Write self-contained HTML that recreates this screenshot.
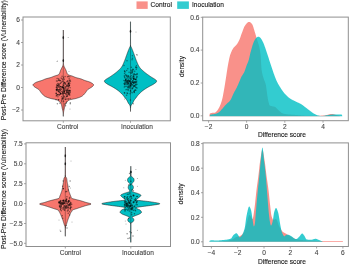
<!DOCTYPE html>
<html><head><meta charset="utf-8"><style>
html,body{margin:0;padding:0;background:#fff;width:350px;height:264px;overflow:hidden}
svg{display:block;font-family:"Liberation Sans",sans-serif;font-size:6.6px;filter:blur(0.35px)}
text{stroke-width:0.1px}
</style></head><body>
<svg width="350" height="264" viewBox="0 0 350 264">
<rect x="23" y="17" width="147.3" height="103.8" fill="none" stroke="#8f8f8f" stroke-width="1.0"/>
<path d="M63.3,30 L63.33,30.25 L63.36,30.5 L63.38,30.75 L63.38,31 L63.38,31.25 L63.38,31.5 L63.38,31.75 L63.38,32 L63.38,32.25 L63.38,32.5 L63.38,32.75 L63.38,33 L63.38,33.25 L63.38,33.5 L63.38,33.75 L63.38,34 L63.38,34.25 L63.38,34.5 L63.38,34.75 L63.38,35 L63.38,35.25 L63.38,35.5 L63.39,35.75 L63.4,36 L63.4,36.25 L63.41,36.5 L63.41,36.75 L63.42,37 L63.42,37.25 L63.42,37.5 L63.42,37.75 L63.41,38 L63.41,38.25 L63.4,38.5 L63.39,38.75 L63.39,39 L63.38,39.25 L63.38,39.5 L63.38,39.75 L63.38,40 L63.38,40.25 L63.38,40.5 L63.38,40.75 L63.38,41 L63.38,41.25 L63.38,41.5 L63.38,41.75 L63.38,42 L63.38,42.25 L63.38,42.5 L63.38,42.75 L63.38,43 L63.38,43.25 L63.38,43.5 L63.38,43.75 L63.38,44 L63.38,44.25 L63.38,44.5 L63.38,44.75 L63.38,45 L63.38,45.25 L63.38,45.5 L63.38,45.75 L63.38,46 L63.38,46.25 L63.38,46.5 L63.38,46.75 L63.38,47 L63.38,47.25 L63.38,47.5 L63.38,47.75 L63.38,48 L63.38,48.25 L63.38,48.5 L63.38,48.75 L63.38,49 L63.38,49.25 L63.38,49.5 L63.38,49.75 L63.38,50 L63.38,50.25 L63.38,50.5 L63.38,50.75 L63.38,51 L63.38,51.25 L63.38,51.5 L63.38,51.75 L63.38,52 L63.38,52.25 L63.38,52.5 L63.38,52.75 L63.38,53 L63.38,53.25 L63.38,53.5 L63.38,53.75 L63.38,54 L63.38,54.25 L63.38,54.5 L63.38,54.75 L63.38,55 L63.38,55.25 L63.38,55.5 L63.38,55.75 L63.38,56 L63.38,56.25 L63.38,56.5 L63.38,56.75 L63.38,57 L63.38,57.25 L63.38,57.5 L63.38,57.75 L63.38,58 L63.38,58.25 L63.38,58.5 L63.39,58.75 L63.39,59 L63.4,59.25 L63.41,59.5 L63.41,59.75 L63.42,60 L63.42,60.25 L63.42,60.5 L63.42,60.75 L63.42,61 L63.42,61.25 L63.41,61.5 L63.41,61.75 L63.41,62 L63.4,62.25 L63.4,62.5 L63.4,62.75 L63.4,63 L63.41,63.25 L63.42,63.5 L63.44,63.75 L63.47,64 L63.51,64.25 L63.55,64.5 L63.6,64.75 L63.65,65 L63.7,65.25 L63.75,65.5 L63.81,65.75 L63.89,66 L63.99,66.25 L64.1,66.5 L64.22,66.75 L64.34,67 L64.47,67.25 L64.6,67.5 L64.73,67.75 L64.85,68 L64.97,68.25 L65.1,68.5 L65.23,68.75 L65.36,69 L65.49,69.25 L65.62,69.5 L65.75,69.75 L65.87,70 L65.98,70.25 L66.08,70.5 L66.17,70.75 L66.25,71 L66.33,71.25 L66.41,71.5 L66.48,71.75 L66.57,72 L66.66,72.25 L66.76,72.5 L66.87,72.75 L66.97,73 L67.08,73.25 L67.2,73.5 L67.34,73.75 L67.5,74 L67.68,74.25 L67.9,74.5 L68.21,74.75 L68.77,75 L69.51,75.25 L70.36,75.5 L71.22,75.75 L72.02,76 L72.69,76.25 L73.3,76.5 L73.88,76.75 L74.47,77 L75.1,77.25 L75.8,77.5 L76.62,77.75 L77.57,78 L78.58,78.25 L79.58,78.5 L80.5,78.75 L81.3,79 L81.95,79.25 L82.53,79.5 L83.06,79.75 L83.62,80 L84.23,80.25 L84.93,80.5 L85.7,80.75 L86.51,81 L87.33,81.25 L88.15,81.5 L88.94,81.75 L89.66,82 L90.3,82.25 L90.83,82.5 L91.24,82.75 L91.65,83 L92.05,83.25 L92.42,83.5 L92.77,83.75 L93.06,84 L93.31,84.25 L93.48,84.5 L93.58,84.75 L93.59,85 L93.52,85.25 L93.38,85.5 L93.19,85.75 L92.97,86 L92.74,86.25 L92.5,86.5 L92.22,86.75 L91.88,87 L91.5,87.25 L91.1,87.5 L90.69,87.75 L90.3,88 L89.89,88.25 L89.44,88.5 L88.99,88.75 L88.56,89 L88.19,89.25 L87.89,89.5 L87.63,89.75 L87.39,90 L87.17,90.25 L86.97,90.5 L86.78,90.75 L86.6,91 L86.43,91.25 L86.26,91.5 L86.09,91.75 L85.92,92 L85.75,92.25 L85.57,92.5 L85.38,92.75 L85.17,93 L84.96,93.25 L84.74,93.5 L84.52,93.75 L84.31,94 L84.09,94.25 L83.86,94.5 L83.63,94.75 L83.38,95 L83.12,95.25 L82.84,95.5 L82.53,95.75 L82.19,96 L81.82,96.25 L81.4,96.5 L80.9,96.75 L80.34,97 L79.72,97.25 L79.05,97.5 L78.32,97.75 L77.55,98 L76.74,98.25 L75.9,98.5 L74.84,98.75 L73.5,99 L72.1,99.25 L70.84,99.5 L69.92,99.75 L69.37,100 L68.91,100.25 L68.51,100.5 L68.16,100.75 L67.85,101 L67.57,101.25 L67.3,101.5 L67.05,101.75 L66.8,102 L66.56,102.25 L66.34,102.5 L66.14,102.75 L65.95,103 L65.79,103.25 L65.65,103.5 L65.53,103.75 L65.44,104 L65.35,104.25 L65.27,104.5 L65.2,104.75 L65.13,105 L65.06,105.25 L65,105.5 L64.94,105.75 L64.88,106 L64.82,106.25 L64.77,106.5 L64.71,106.75 L64.66,107 L64.61,107.25 L64.56,107.5 L64.51,107.75 L64.46,108 L64.41,108.25 L64.36,108.5 L64.3,108.75 L64.24,109 L64.18,109.25 L64.12,109.5 L64.06,109.75 L64,110 L63.94,110.25 L63.88,110.5 L63.82,110.75 L63.77,111 L63.73,111.25 L63.68,111.5 L63.64,111.75 L63.61,112 L63.58,112.25 L63.56,112.5 L63.53,112.75 L63.51,113 L63.48,113.25 L63.46,113.5 L63.44,113.75 L63.41,114 L63.39,114.25 L63.37,114.5 L63.36,114.75 L63.34,115 L63.33,115.25 L63.32,115.5 L63.31,115.75 L63.3,116 L63.3,116.25 L63.3,116.4 L63.3,116.4 L63.3,116.25 L63.3,116 L63.29,115.75 L63.28,115.5 L63.27,115.25 L63.26,115 L63.24,114.75 L63.23,114.5 L63.21,114.25 L63.19,114 L63.16,113.75 L63.14,113.5 L63.12,113.25 L63.09,113 L63.07,112.75 L63.04,112.5 L63.02,112.25 L62.99,112 L62.96,111.75 L62.92,111.5 L62.87,111.25 L62.83,111 L62.78,110.75 L62.72,110.5 L62.66,110.25 L62.6,110 L62.54,109.75 L62.48,109.5 L62.42,109.25 L62.36,109 L62.3,108.75 L62.24,108.5 L62.19,108.25 L62.14,108 L62.09,107.75 L62.04,107.5 L61.99,107.25 L61.94,107 L61.89,106.75 L61.83,106.5 L61.78,106.25 L61.72,106 L61.66,105.75 L61.6,105.5 L61.54,105.25 L61.47,105 L61.4,104.75 L61.33,104.5 L61.25,104.25 L61.16,104 L61.07,103.75 L60.95,103.5 L60.81,103.25 L60.65,103 L60.46,102.75 L60.26,102.5 L60.04,102.25 L59.8,102 L59.55,101.75 L59.3,101.5 L59.03,101.25 L58.75,101 L58.44,100.75 L58.09,100.5 L57.69,100.25 L57.23,100 L56.68,99.75 L55.76,99.5 L54.5,99.25 L53.1,99 L51.76,98.75 L50.7,98.5 L49.86,98.25 L49.05,98 L48.28,97.75 L47.55,97.5 L46.88,97.25 L46.26,97 L45.7,96.75 L45.2,96.5 L44.78,96.25 L44.41,96 L44.07,95.75 L43.76,95.5 L43.48,95.25 L43.22,95 L42.97,94.75 L42.74,94.5 L42.51,94.25 L42.29,94 L42.08,93.75 L41.86,93.5 L41.64,93.25 L41.43,93 L41.22,92.75 L41.03,92.5 L40.85,92.25 L40.68,92 L40.51,91.75 L40.34,91.5 L40.17,91.25 L40,91 L39.82,90.75 L39.63,90.5 L39.43,90.25 L39.21,90 L38.97,89.75 L38.71,89.5 L38.41,89.25 L38.04,89 L37.61,88.75 L37.16,88.5 L36.71,88.25 L36.3,88 L35.91,87.75 L35.5,87.5 L35.1,87.25 L34.72,87 L34.38,86.75 L34.1,86.5 L33.86,86.25 L33.63,86 L33.41,85.75 L33.22,85.5 L33.08,85.25 L33.01,85 L33.02,84.75 L33.12,84.5 L33.29,84.25 L33.54,84 L33.83,83.75 L34.18,83.5 L34.55,83.25 L34.95,83 L35.36,82.75 L35.77,82.5 L36.3,82.25 L36.94,82 L37.66,81.75 L38.45,81.5 L39.27,81.25 L40.09,81 L40.9,80.75 L41.67,80.5 L42.37,80.25 L42.98,80 L43.54,79.75 L44.07,79.5 L44.65,79.25 L45.3,79 L46.1,78.75 L47.02,78.5 L48.02,78.25 L49.03,78 L49.98,77.75 L50.8,77.5 L51.5,77.25 L52.13,77 L52.72,76.75 L53.3,76.5 L53.91,76.25 L54.58,76 L55.38,75.75 L56.24,75.5 L57.09,75.25 L57.83,75 L58.39,74.75 L58.7,74.5 L58.92,74.25 L59.1,74 L59.26,73.75 L59.4,73.5 L59.52,73.25 L59.63,73 L59.73,72.75 L59.84,72.5 L59.94,72.25 L60.03,72 L60.12,71.75 L60.19,71.5 L60.27,71.25 L60.35,71 L60.43,70.75 L60.52,70.5 L60.62,70.25 L60.73,70 L60.85,69.75 L60.98,69.5 L61.11,69.25 L61.24,69 L61.37,68.75 L61.5,68.5 L61.63,68.25 L61.75,68 L61.87,67.75 L62,67.5 L62.13,67.25 L62.26,67 L62.38,66.75 L62.5,66.5 L62.61,66.25 L62.71,66 L62.79,65.75 L62.85,65.5 L62.9,65.25 L62.95,65 L63,64.75 L63.05,64.5 L63.09,64.25 L63.13,64 L63.16,63.75 L63.18,63.5 L63.19,63.25 L63.2,63 L63.2,62.75 L63.2,62.5 L63.2,62.25 L63.19,62 L63.19,61.75 L63.19,61.5 L63.18,61.25 L63.18,61 L63.18,60.75 L63.18,60.5 L63.18,60.25 L63.18,60 L63.19,59.75 L63.19,59.5 L63.2,59.25 L63.21,59 L63.21,58.75 L63.22,58.5 L63.22,58.25 L63.22,58 L63.22,57.75 L63.22,57.5 L63.22,57.25 L63.22,57 L63.22,56.75 L63.22,56.5 L63.22,56.25 L63.22,56 L63.22,55.75 L63.22,55.5 L63.22,55.25 L63.22,55 L63.22,54.75 L63.22,54.5 L63.22,54.25 L63.22,54 L63.22,53.75 L63.22,53.5 L63.22,53.25 L63.22,53 L63.22,52.75 L63.22,52.5 L63.22,52.25 L63.22,52 L63.22,51.75 L63.22,51.5 L63.22,51.25 L63.22,51 L63.22,50.75 L63.22,50.5 L63.22,50.25 L63.22,50 L63.22,49.75 L63.22,49.5 L63.22,49.25 L63.22,49 L63.22,48.75 L63.22,48.5 L63.22,48.25 L63.22,48 L63.22,47.75 L63.22,47.5 L63.22,47.25 L63.22,47 L63.22,46.75 L63.22,46.5 L63.22,46.25 L63.22,46 L63.22,45.75 L63.22,45.5 L63.22,45.25 L63.22,45 L63.22,44.75 L63.22,44.5 L63.22,44.25 L63.22,44 L63.22,43.75 L63.22,43.5 L63.22,43.25 L63.22,43 L63.22,42.75 L63.22,42.5 L63.22,42.25 L63.22,42 L63.22,41.75 L63.22,41.5 L63.22,41.25 L63.22,41 L63.22,40.75 L63.22,40.5 L63.22,40.25 L63.22,40 L63.22,39.75 L63.22,39.5 L63.22,39.25 L63.21,39 L63.21,38.75 L63.2,38.5 L63.19,38.25 L63.19,38 L63.18,37.75 L63.18,37.5 L63.18,37.25 L63.18,37 L63.19,36.75 L63.19,36.5 L63.2,36.25 L63.2,36 L63.21,35.75 L63.22,35.5 L63.22,35.25 L63.22,35 L63.22,34.75 L63.22,34.5 L63.22,34.25 L63.22,34 L63.22,33.75 L63.22,33.5 L63.22,33.25 L63.22,33 L63.22,32.75 L63.22,32.5 L63.22,32.25 L63.22,32 L63.22,31.75 L63.22,31.5 L63.22,31.25 L63.22,31 L63.22,30.75 L63.24,30.5 L63.27,30.25 L63.3,30 Z" fill="#F8766D" stroke="#111" stroke-width="0.5" stroke-linejoin="round"/>
<path d="M130.5,21.7 L130.53,21.95 L130.56,22.2 L130.58,22.45 L130.58,22.7 L130.58,22.95 L130.58,23.2 L130.58,23.45 L130.58,23.7 L130.58,23.95 L130.58,24.2 L130.58,24.45 L130.58,24.7 L130.58,24.95 L130.58,25.2 L130.58,25.45 L130.58,25.7 L130.58,25.95 L130.58,26.2 L130.58,26.45 L130.58,26.7 L130.58,26.95 L130.58,27.2 L130.58,27.45 L130.58,27.7 L130.58,27.95 L130.58,28.2 L130.58,28.45 L130.58,28.7 L130.58,28.95 L130.58,29.2 L130.58,29.45 L130.59,29.7 L130.6,29.95 L130.6,30.2 L130.61,30.45 L130.61,30.7 L130.62,30.95 L130.62,31.2 L130.62,31.45 L130.62,31.7 L130.61,31.95 L130.6,32.2 L130.6,32.45 L130.59,32.7 L130.59,32.95 L130.58,33.2 L130.58,33.45 L130.58,33.7 L130.58,33.95 L130.58,34.2 L130.58,34.45 L130.58,34.7 L130.58,34.95 L130.58,35.2 L130.58,35.45 L130.58,35.7 L130.58,35.95 L130.58,36.2 L130.58,36.45 L130.58,36.7 L130.58,36.95 L130.58,37.2 L130.58,37.45 L130.58,37.7 L130.58,37.95 L130.58,38.2 L130.58,38.45 L130.59,38.7 L130.59,38.95 L130.59,39.2 L130.59,39.45 L130.59,39.7 L130.59,39.95 L130.59,40.2 L130.59,40.45 L130.59,40.7 L130.59,40.95 L130.59,41.2 L130.59,41.45 L130.6,41.7 L130.6,41.95 L130.6,42.2 L130.6,42.45 L130.6,42.7 L130.6,42.95 L130.6,43.2 L130.6,43.45 L130.61,43.7 L130.61,43.95 L130.61,44.2 L130.61,44.45 L130.61,44.7 L130.62,44.95 L130.62,45.2 L130.62,45.45 L130.64,45.7 L130.69,45.95 L130.78,46.2 L130.89,46.45 L131.01,46.7 L131.14,46.95 L131.27,47.2 L131.38,47.45 L131.48,47.7 L131.58,47.95 L131.69,48.2 L131.8,48.45 L131.9,48.7 L132.01,48.95 L132.12,49.2 L132.22,49.45 L132.33,49.7 L132.44,49.95 L132.54,50.2 L132.64,50.45 L132.74,50.7 L132.84,50.95 L132.93,51.2 L133.03,51.45 L133.12,51.7 L133.22,51.95 L133.31,52.2 L133.4,52.45 L133.49,52.7 L133.58,52.95 L133.67,53.2 L133.76,53.45 L133.85,53.7 L133.95,53.95 L134.04,54.2 L134.13,54.45 L134.22,54.7 L134.31,54.95 L134.4,55.2 L134.49,55.45 L134.58,55.7 L134.67,55.95 L134.76,56.2 L134.85,56.45 L134.94,56.7 L135.02,56.95 L135.11,57.2 L135.2,57.45 L135.29,57.7 L135.37,57.95 L135.46,58.2 L135.55,58.45 L135.64,58.7 L135.73,58.95 L135.82,59.2 L135.91,59.45 L136.01,59.7 L136.1,59.95 L136.2,60.2 L136.29,60.45 L136.39,60.7 L136.5,60.95 L136.6,61.2 L136.7,61.45 L136.81,61.7 L136.91,61.95 L137.02,62.2 L137.12,62.45 L137.23,62.7 L137.33,62.95 L137.44,63.2 L137.55,63.45 L137.66,63.7 L137.77,63.95 L137.89,64.2 L138,64.45 L138.12,64.7 L138.25,64.95 L138.37,65.2 L138.5,65.45 L138.63,65.7 L138.77,65.95 L138.92,66.2 L139.06,66.45 L139.21,66.7 L139.37,66.95 L139.53,67.2 L139.7,67.45 L139.89,67.7 L140.08,67.95 L140.29,68.2 L140.51,68.45 L140.74,68.7 L140.98,68.95 L141.22,69.2 L141.48,69.45 L141.74,69.7 L142.01,69.95 L142.28,70.2 L142.56,70.45 L142.84,70.7 L143.12,70.95 L143.41,71.2 L143.7,71.45 L143.99,71.7 L144.27,71.95 L144.57,72.2 L144.87,72.45 L145.18,72.7 L145.5,72.95 L145.83,73.2 L146.15,73.45 L146.49,73.7 L146.83,73.95 L147.17,74.2 L147.52,74.45 L147.87,74.7 L148.22,74.95 L148.58,75.2 L148.94,75.45 L149.29,75.7 L149.65,75.95 L150.01,76.2 L150.37,76.45 L150.75,76.7 L151.14,76.95 L151.54,77.2 L151.95,77.45 L152.37,77.7 L152.79,77.95 L153.21,78.2 L153.62,78.45 L154.02,78.7 L154.41,78.95 L154.78,79.2 L155.13,79.45 L155.45,79.7 L155.75,79.95 L156.03,80.2 L156.33,80.45 L156.57,80.7 L156.7,80.95 L156.67,81.2 L156.58,81.45 L156.44,81.7 L156.28,81.95 L156.1,82.2 L155.89,82.45 L155.63,82.7 L155.33,82.95 L154.99,83.2 L154.62,83.45 L154.25,83.7 L153.87,83.95 L153.49,84.2 L153.08,84.45 L152.64,84.7 L152.19,84.95 L151.71,85.2 L151.23,85.45 L150.74,85.7 L150.25,85.95 L149.77,86.2 L149.3,86.45 L148.85,86.7 L148.41,86.95 L147.99,87.2 L147.57,87.45 L147.15,87.7 L146.74,87.95 L146.34,88.2 L145.94,88.45 L145.55,88.7 L145.16,88.95 L144.79,89.2 L144.43,89.45 L144.07,89.7 L143.71,89.95 L143.36,90.2 L143.02,90.45 L142.68,90.7 L142.36,90.95 L142.04,91.2 L141.73,91.45 L141.44,91.7 L141.15,91.95 L140.89,92.2 L140.65,92.45 L140.42,92.7 L140.2,92.95 L139.97,93.2 L139.74,93.45 L139.5,93.7 L139.24,93.95 L138.95,94.2 L138.67,94.45 L138.39,94.7 L138.15,94.95 L137.93,95.2 L137.72,95.45 L137.52,95.7 L137.34,95.95 L137.16,96.2 L136.98,96.45 L136.81,96.7 L136.64,96.95 L136.47,97.2 L136.29,97.45 L136.1,97.7 L135.91,97.95 L135.7,98.2 L135.5,98.45 L135.29,98.7 L135.08,98.95 L134.88,99.2 L134.69,99.45 L134.5,99.7 L134.33,99.95 L134.18,100.2 L134.03,100.45 L133.89,100.7 L133.76,100.95 L133.64,101.2 L133.52,101.45 L133.4,101.7 L133.28,101.95 L133.16,102.2 L133.03,102.45 L132.9,102.7 L132.77,102.95 L132.62,103.2 L132.47,103.45 L132.28,103.7 L132.08,103.95 L131.87,104.2 L131.66,104.45 L131.47,104.7 L131.32,104.95 L131.21,105.2 L131.1,105.45 L130.99,105.7 L130.89,105.95 L130.81,106.2 L130.74,106.45 L130.69,106.7 L130.65,106.95 L130.64,107.2 L130.62,107.45 L130.61,107.7 L130.59,107.95 L130.58,108.2 L130.57,108.45 L130.56,108.7 L130.55,108.95 L130.54,109.2 L130.53,109.45 L130.52,109.7 L130.52,109.95 L130.51,110.2 L130.51,110.45 L130.5,110.7 L130.5,110.95 L130.5,111.2 L130.5,111.45 L130.5,111.5 L130.5,111.5 L130.5,111.45 L130.5,111.2 L130.5,110.95 L130.5,110.7 L130.49,110.45 L130.49,110.2 L130.48,109.95 L130.48,109.7 L130.47,109.45 L130.46,109.2 L130.45,108.95 L130.44,108.7 L130.43,108.45 L130.42,108.2 L130.41,107.95 L130.39,107.7 L130.38,107.45 L130.36,107.2 L130.35,106.95 L130.31,106.7 L130.26,106.45 L130.19,106.2 L130.11,105.95 L130.01,105.7 L129.9,105.45 L129.79,105.2 L129.68,104.95 L129.53,104.7 L129.34,104.45 L129.13,104.2 L128.92,103.95 L128.72,103.7 L128.53,103.45 L128.38,103.2 L128.23,102.95 L128.1,102.7 L127.97,102.45 L127.84,102.2 L127.72,101.95 L127.6,101.7 L127.48,101.45 L127.36,101.2 L127.24,100.95 L127.11,100.7 L126.97,100.45 L126.82,100.2 L126.67,99.95 L126.5,99.7 L126.31,99.45 L126.12,99.2 L125.92,98.95 L125.71,98.7 L125.5,98.45 L125.3,98.2 L125.09,97.95 L124.9,97.7 L124.71,97.45 L124.53,97.2 L124.36,96.95 L124.19,96.7 L124.02,96.45 L123.84,96.2 L123.66,95.95 L123.48,95.7 L123.28,95.45 L123.07,95.2 L122.85,94.95 L122.61,94.7 L122.33,94.45 L122.05,94.2 L121.76,93.95 L121.5,93.7 L121.26,93.45 L121.03,93.2 L120.8,92.95 L120.58,92.7 L120.35,92.45 L120.11,92.2 L119.85,91.95 L119.56,91.7 L119.27,91.45 L118.96,91.2 L118.64,90.95 L118.32,90.7 L117.98,90.45 L117.64,90.2 L117.29,89.95 L116.93,89.7 L116.57,89.45 L116.21,89.2 L115.84,88.95 L115.45,88.7 L115.06,88.45 L114.66,88.2 L114.26,87.95 L113.85,87.7 L113.43,87.45 L113.01,87.2 L112.59,86.95 L112.15,86.7 L111.7,86.45 L111.23,86.2 L110.75,85.95 L110.26,85.7 L109.77,85.45 L109.29,85.2 L108.81,84.95 L108.36,84.7 L107.92,84.45 L107.51,84.2 L107.13,83.95 L106.75,83.7 L106.38,83.45 L106.01,83.2 L105.67,82.95 L105.37,82.7 L105.11,82.45 L104.9,82.2 L104.72,81.95 L104.56,81.7 L104.42,81.45 L104.33,81.2 L104.3,80.95 L104.43,80.7 L104.67,80.45 L104.97,80.2 L105.25,79.95 L105.55,79.7 L105.87,79.45 L106.22,79.2 L106.59,78.95 L106.98,78.7 L107.38,78.45 L107.79,78.2 L108.21,77.95 L108.63,77.7 L109.05,77.45 L109.46,77.2 L109.86,76.95 L110.25,76.7 L110.63,76.45 L110.99,76.2 L111.35,75.95 L111.71,75.7 L112.06,75.45 L112.42,75.2 L112.78,74.95 L113.13,74.7 L113.48,74.45 L113.83,74.2 L114.17,73.95 L114.51,73.7 L114.85,73.45 L115.17,73.2 L115.5,72.95 L115.82,72.7 L116.13,72.45 L116.43,72.2 L116.73,71.95 L117.01,71.7 L117.3,71.45 L117.59,71.2 L117.88,70.95 L118.16,70.7 L118.44,70.45 L118.72,70.2 L118.99,69.95 L119.26,69.7 L119.52,69.45 L119.78,69.2 L120.02,68.95 L120.26,68.7 L120.49,68.45 L120.71,68.2 L120.92,67.95 L121.11,67.7 L121.3,67.45 L121.47,67.2 L121.63,66.95 L121.79,66.7 L121.94,66.45 L122.08,66.2 L122.23,65.95 L122.37,65.7 L122.5,65.45 L122.63,65.2 L122.75,64.95 L122.88,64.7 L123,64.45 L123.11,64.2 L123.23,63.95 L123.34,63.7 L123.45,63.45 L123.56,63.2 L123.67,62.95 L123.77,62.7 L123.88,62.45 L123.98,62.2 L124.09,61.95 L124.19,61.7 L124.3,61.45 L124.4,61.2 L124.5,60.95 L124.61,60.7 L124.71,60.45 L124.8,60.2 L124.9,59.95 L124.99,59.7 L125.09,59.45 L125.18,59.2 L125.27,58.95 L125.36,58.7 L125.45,58.45 L125.54,58.2 L125.63,57.95 L125.71,57.7 L125.8,57.45 L125.89,57.2 L125.98,56.95 L126.06,56.7 L126.15,56.45 L126.24,56.2 L126.33,55.95 L126.42,55.7 L126.51,55.45 L126.6,55.2 L126.69,54.95 L126.78,54.7 L126.87,54.45 L126.96,54.2 L127.05,53.95 L127.15,53.7 L127.24,53.45 L127.33,53.2 L127.42,52.95 L127.51,52.7 L127.6,52.45 L127.69,52.2 L127.78,51.95 L127.88,51.7 L127.97,51.45 L128.07,51.2 L128.16,50.95 L128.26,50.7 L128.36,50.45 L128.46,50.2 L128.56,49.95 L128.67,49.7 L128.78,49.45 L128.88,49.2 L128.99,48.95 L129.1,48.7 L129.2,48.45 L129.31,48.2 L129.42,47.95 L129.52,47.7 L129.62,47.45 L129.73,47.2 L129.86,46.95 L129.99,46.7 L130.11,46.45 L130.22,46.2 L130.31,45.95 L130.36,45.7 L130.38,45.45 L130.38,45.2 L130.38,44.95 L130.39,44.7 L130.39,44.45 L130.39,44.2 L130.39,43.95 L130.39,43.7 L130.4,43.45 L130.4,43.2 L130.4,42.95 L130.4,42.7 L130.4,42.45 L130.4,42.2 L130.4,41.95 L130.4,41.7 L130.41,41.45 L130.41,41.2 L130.41,40.95 L130.41,40.7 L130.41,40.45 L130.41,40.2 L130.41,39.95 L130.41,39.7 L130.41,39.45 L130.41,39.2 L130.41,38.95 L130.41,38.7 L130.42,38.45 L130.42,38.2 L130.42,37.95 L130.42,37.7 L130.42,37.45 L130.42,37.2 L130.42,36.95 L130.42,36.7 L130.42,36.45 L130.42,36.2 L130.42,35.95 L130.42,35.7 L130.42,35.45 L130.42,35.2 L130.42,34.95 L130.42,34.7 L130.42,34.45 L130.42,34.2 L130.42,33.95 L130.42,33.7 L130.42,33.45 L130.42,33.2 L130.41,32.95 L130.41,32.7 L130.4,32.45 L130.4,32.2 L130.39,31.95 L130.38,31.7 L130.38,31.45 L130.38,31.2 L130.38,30.95 L130.39,30.7 L130.39,30.45 L130.4,30.2 L130.4,29.95 L130.41,29.7 L130.42,29.45 L130.42,29.2 L130.42,28.95 L130.42,28.7 L130.42,28.45 L130.42,28.2 L130.42,27.95 L130.42,27.7 L130.42,27.45 L130.42,27.2 L130.42,26.95 L130.42,26.7 L130.42,26.45 L130.42,26.2 L130.42,25.95 L130.42,25.7 L130.42,25.45 L130.42,25.2 L130.42,24.95 L130.42,24.7 L130.42,24.45 L130.42,24.2 L130.42,23.95 L130.42,23.7 L130.42,23.45 L130.42,23.2 L130.42,22.95 L130.42,22.7 L130.42,22.45 L130.44,22.2 L130.47,21.95 L130.5,21.7 Z" fill="#00BFC4" stroke="#111" stroke-width="0.5" stroke-linejoin="round"/>
<g fill="#000" fill-opacity="0.42"><circle cx="69.49" cy="81.04" r="0.75"/><circle cx="62.8" cy="91.45" r="0.75"/><circle cx="58.7" cy="80.36" r="0.75"/><circle cx="63.47" cy="88.57" r="0.75"/><circle cx="57.37" cy="81.1" r="0.75"/><circle cx="60.43" cy="80.6" r="0.75"/><circle cx="66.12" cy="98.97" r="0.75"/><circle cx="56.61" cy="95.39" r="0.75"/><circle cx="65.55" cy="105.71" r="0.75"/><circle cx="64.99" cy="87.12" r="0.75"/><circle cx="63.71" cy="89.62" r="0.75"/><circle cx="56.87" cy="89.94" r="0.75"/><circle cx="56.44" cy="90.78" r="0.75"/><circle cx="62.77" cy="93.5" r="0.75"/><circle cx="63.58" cy="77.37" r="0.75"/><circle cx="65.35" cy="93.56" r="0.75"/><circle cx="62.68" cy="79.42" r="0.75"/><circle cx="60.06" cy="89.01" r="0.75"/><circle cx="68.27" cy="88.68" r="0.75"/><circle cx="59.35" cy="87.52" r="0.75"/><circle cx="60.22" cy="83.54" r="0.75"/><circle cx="61.85" cy="99.02" r="0.75"/><circle cx="68.36" cy="93.73" r="0.75"/><circle cx="68.37" cy="76.62" r="0.75"/><circle cx="56.01" cy="99.71" r="0.75"/><circle cx="62.86" cy="92.57" r="0.75"/><circle cx="70.31" cy="102.82" r="0.75"/><circle cx="65.19" cy="86.98" r="0.75"/><circle cx="67.37" cy="90.52" r="0.75"/><circle cx="60.86" cy="88.66" r="0.75"/><circle cx="70.08" cy="91.75" r="0.75"/><circle cx="59.6" cy="89.16" r="0.75"/><circle cx="57.48" cy="85.75" r="0.75"/><circle cx="58.59" cy="99.8" r="0.75"/><circle cx="64.17" cy="93.27" r="0.75"/><circle cx="66.69" cy="85" r="0.75"/><circle cx="57.91" cy="90.37" r="0.75"/><circle cx="62.14" cy="87" r="0.75"/><circle cx="59.11" cy="86.46" r="0.75"/><circle cx="67.73" cy="86.86" r="0.75"/><circle cx="59.08" cy="84.49" r="0.75"/><circle cx="61.76" cy="101.74" r="0.75"/><circle cx="57.46" cy="94.68" r="0.75"/><circle cx="70.44" cy="81.62" r="0.75"/><circle cx="67.28" cy="90.15" r="0.75"/><circle cx="60.8" cy="93.89" r="0.75"/><circle cx="57.32" cy="88.27" r="0.75"/><circle cx="64.51" cy="91.43" r="0.75"/><circle cx="61.43" cy="89.39" r="0.75"/><circle cx="62.62" cy="97.81" r="0.75"/><circle cx="64.39" cy="96.23" r="0.75"/><circle cx="68.65" cy="87.1" r="0.75"/><circle cx="69.26" cy="90.54" r="0.75"/><circle cx="67.94" cy="92.43" r="0.75"/><circle cx="66.8" cy="89.01" r="0.75"/><circle cx="69.73" cy="93.22" r="0.75"/><circle cx="68.88" cy="94.24" r="0.75"/><circle cx="64.81" cy="104.03" r="0.75"/><circle cx="56.56" cy="86.32" r="0.75"/><circle cx="70.06" cy="90.44" r="0.75"/><circle cx="59.75" cy="89.74" r="0.75"/><circle cx="68.03" cy="99.12" r="0.75"/><circle cx="58.56" cy="84.55" r="0.75"/><circle cx="66.52" cy="85.91" r="0.75"/><circle cx="64.17" cy="93.25" r="0.75"/><circle cx="68.45" cy="90.96" r="0.75"/><circle cx="69.39" cy="85.03" r="0.75"/><circle cx="58.98" cy="85.53" r="0.75"/><circle cx="62.51" cy="94.12" r="0.75"/><circle cx="56.88" cy="89.54" r="0.75"/><circle cx="64.35" cy="91.79" r="0.75"/><circle cx="57.92" cy="94.58" r="0.75"/><circle cx="70.32" cy="80.14" r="0.75"/><circle cx="65.59" cy="99.42" r="0.75"/><circle cx="58.05" cy="85.89" r="0.75"/><circle cx="56.51" cy="80.97" r="0.75"/><circle cx="66.23" cy="103.18" r="0.75"/><circle cx="70.06" cy="90.6" r="0.75"/><circle cx="63.04" cy="98.16" r="0.75"/><circle cx="66.67" cy="90.23" r="0.75"/><circle cx="57.1" cy="78.54" r="0.75"/><circle cx="69.14" cy="78.82" r="0.75"/><circle cx="66.76" cy="85.97" r="0.75"/><circle cx="69.36" cy="85.69" r="0.75"/><circle cx="61.14" cy="77.94" r="0.75"/><circle cx="68.72" cy="83.46" r="0.75"/><circle cx="62.09" cy="76.17" r="0.75"/><circle cx="64.36" cy="92.27" r="0.75"/><circle cx="65.12" cy="76.45" r="0.75"/><circle cx="64.89" cy="82.65" r="0.75"/><circle cx="57.17" cy="94.79" r="0.75"/><circle cx="61.67" cy="96.64" r="0.75"/><circle cx="66.73" cy="81.81" r="0.75"/><circle cx="68.24" cy="82.88" r="0.75"/><circle cx="57.22" cy="85.59" r="0.75"/><circle cx="64.78" cy="89" r="0.75"/><circle cx="63.02" cy="87.4" r="0.75"/><circle cx="63.26" cy="90.25" r="0.75"/><circle cx="64.97" cy="98.99" r="0.75"/><circle cx="56.17" cy="93.39" r="0.75"/><circle cx="60.4" cy="86.61" r="0.75"/><circle cx="58.48" cy="87.09" r="0.75"/><circle cx="69.22" cy="85.06" r="0.75"/><circle cx="69.02" cy="85.24" r="0.75"/><circle cx="60.77" cy="83.07" r="0.75"/><circle cx="62.29" cy="86.82" r="0.75"/><circle cx="67.77" cy="85.27" r="0.75"/><circle cx="61.61" cy="100.49" r="0.75"/><circle cx="64.51" cy="82.13" r="0.75"/><circle cx="63.25" cy="87.57" r="0.75"/><circle cx="68.22" cy="92.21" r="0.75"/><circle cx="69.87" cy="94.95" r="0.75"/><circle cx="60.04" cy="80.66" r="0.75"/><circle cx="60.02" cy="92.46" r="0.75"/><circle cx="59.13" cy="95.22" r="0.75"/><circle cx="63.21" cy="81.19" r="0.75"/><circle cx="60.6" cy="93.69" r="0.75"/><circle cx="62.61" cy="98.79" r="0.75"/><circle cx="68.74" cy="90.47" r="0.75"/><circle cx="56.61" cy="89.74" r="0.75"/><circle cx="60.51" cy="86.83" r="0.75"/><circle cx="67.56" cy="80.83" r="0.75"/><circle cx="62.64" cy="92.49" r="0.75"/><circle cx="56.36" cy="89.42" r="0.75"/><circle cx="58.06" cy="91.3" r="0.75"/><circle cx="56.69" cy="84.8" r="0.75"/><circle cx="65.2" cy="84.13" r="0.75"/><circle cx="65.56" cy="83.87" r="0.75"/><circle cx="65.99" cy="94.78" r="0.75"/><circle cx="58.61" cy="91.31" r="0.75"/><circle cx="56.16" cy="96.01" r="0.75"/><circle cx="58.61" cy="78.87" r="0.75"/><circle cx="59.98" cy="90.79" r="0.75"/><circle cx="63.6" cy="83.31" r="0.75"/><circle cx="64.97" cy="97.28" r="0.75"/><circle cx="67.56" cy="89.25" r="0.75"/><circle cx="69.23" cy="82.5" r="0.75"/><circle cx="66.55" cy="101.89" r="0.75"/><circle cx="57.9" cy="96.86" r="0.75"/><circle cx="69.29" cy="80.27" r="0.75"/><circle cx="61.5" cy="91.62" r="0.75"/><circle cx="67.63" cy="76.86" r="0.75"/><circle cx="69.79" cy="83.4" r="0.75"/><circle cx="58.99" cy="79.81" r="0.75"/><circle cx="66.54" cy="91.13" r="0.75"/><circle cx="66.48" cy="92.88" r="0.75"/><circle cx="59.11" cy="80.53" r="0.75"/><circle cx="70.27" cy="103.75" r="0.75"/><circle cx="63.84" cy="78.28" r="0.75"/><circle cx="69.29" cy="90.45" r="0.75"/><circle cx="68.49" cy="83.47" r="0.75"/><circle cx="62.44" cy="87.43" r="0.75"/><circle cx="64.03" cy="91.2" r="0.75"/><circle cx="56.41" cy="89.86" r="0.75"/><circle cx="67.81" cy="81.53" r="0.75"/><circle cx="58.52" cy="99.73" r="0.75"/><circle cx="60.89" cy="93.57" r="0.75"/><circle cx="58.17" cy="89.84" r="0.75"/><circle cx="63.54" cy="85.52" r="0.75"/><circle cx="66.06" cy="86.94" r="0.75"/><circle cx="69.81" cy="76.73" r="0.75"/><circle cx="57.26" cy="89.74" r="0.75"/><circle cx="60.24" cy="90.42" r="0.75"/><circle cx="66.64" cy="96.82" r="0.75"/><circle cx="68.32" cy="83.92" r="0.75"/><circle cx="64.18" cy="82.94" r="0.75"/><circle cx="68.34" cy="86.59" r="0.75"/><circle cx="69.15" cy="94.9" r="0.75"/><circle cx="70.14" cy="92.29" r="0.75"/><circle cx="63.65" cy="101.24" r="0.75"/><circle cx="63.82" cy="85.1" r="0.75"/><circle cx="63.35" cy="87.07" r="0.75"/><circle cx="70.15" cy="87.78" r="0.75"/><circle cx="63.53" cy="88.05" r="0.75"/><circle cx="64.22" cy="79.52" r="0.75"/><circle cx="63.17" cy="95.83" r="0.75"/><circle cx="63.87" cy="88.13" r="0.75"/><circle cx="62.04" cy="86.76" r="0.75"/><circle cx="59.93" cy="103.2" r="0.75"/><circle cx="62.91" cy="85.06" r="0.75"/><circle cx="67.91" cy="93.84" r="0.75"/><circle cx="69.15" cy="93.96" r="0.75"/><circle cx="58.8" cy="83.38" r="0.75"/><circle cx="65.02" cy="89.83" r="0.75"/><circle cx="67.38" cy="92.05" r="0.75"/><circle cx="56.33" cy="87.45" r="0.75"/><circle cx="66.03" cy="90.61" r="0.75"/><circle cx="60.7" cy="93.38" r="0.75"/><circle cx="57.53" cy="83.44" r="0.75"/><circle cx="66.67" cy="96.13" r="0.75"/><circle cx="59.66" cy="94.57" r="0.75"/><circle cx="58.89" cy="94.42" r="0.75"/><circle cx="61.49" cy="82.16" r="0.75"/><circle cx="62.04" cy="87.68" r="0.75"/><circle cx="58.98" cy="85.23" r="0.75"/><circle cx="65.22" cy="88.3" r="0.75"/><circle cx="68.43" cy="83.85" r="0.75"/><circle cx="64.93" cy="82.9" r="0.75"/><circle cx="66.82" cy="91.94" r="0.75"/><circle cx="67.83" cy="85.29" r="0.75"/><circle cx="60.6" cy="93.64" r="0.75"/><circle cx="69.47" cy="85.75" r="0.75"/><circle cx="68.96" cy="93.63" r="0.75"/><circle cx="66.61" cy="92.2" r="0.75"/><circle cx="59.79" cy="92.59" r="0.75"/><circle cx="62.16" cy="99.07" r="0.75"/><circle cx="67.53" cy="96.03" r="0.75"/><circle cx="66" cy="93.64" r="0.75"/><circle cx="56.26" cy="93.7" r="0.75"/><circle cx="69.31" cy="91.99" r="0.75"/><circle cx="70.14" cy="98.38" r="0.75"/><circle cx="67.07" cy="94.77" r="0.75"/><circle cx="63.34" cy="94.12" r="0.75"/><circle cx="57.03" cy="87.35" r="0.75"/><circle cx="57.55" cy="85.13" r="0.75"/><circle cx="63.52" cy="97.01" r="0.75"/><circle cx="64.3" cy="90.92" r="0.75"/><circle cx="58.98" cy="91.51" r="0.75"/><circle cx="68.27" cy="92.31" r="0.75"/><circle cx="57.39" cy="103.84" r="0.75"/><circle cx="56.9" cy="88.09" r="0.75"/><circle cx="67.16" cy="95.9" r="0.75"/><circle cx="60.77" cy="86.83" r="0.75"/><circle cx="62.28" cy="81.35" r="0.75"/><circle cx="64.77" cy="90.61" r="0.75"/><circle cx="68.33" cy="99.07" r="0.75"/><circle cx="58.65" cy="89.84" r="0.75"/><circle cx="61.92" cy="78.78" r="0.75"/><circle cx="58.85" cy="92.04" r="0.75"/><circle cx="56.23" cy="92.96" r="0.75"/><circle cx="135.85" cy="90.26" r="0.75"/><circle cx="135.41" cy="85.99" r="0.75"/><circle cx="132.26" cy="70.16" r="0.75"/><circle cx="130.56" cy="73.07" r="0.75"/><circle cx="137.06" cy="88.11" r="0.75"/><circle cx="136.09" cy="84.09" r="0.75"/><circle cx="133.82" cy="76.18" r="0.75"/><circle cx="129.22" cy="84.57" r="0.75"/><circle cx="135.89" cy="67.54" r="0.75"/><circle cx="134.13" cy="90.98" r="0.75"/><circle cx="134.11" cy="73.55" r="0.75"/><circle cx="124.66" cy="71.37" r="0.75"/><circle cx="128.35" cy="89.15" r="0.75"/><circle cx="128.54" cy="80.85" r="0.75"/><circle cx="132.39" cy="82.23" r="0.75"/><circle cx="136.55" cy="77.86" r="0.75"/><circle cx="132.76" cy="77.91" r="0.75"/><circle cx="131.45" cy="75.84" r="0.75"/><circle cx="130.95" cy="92" r="0.75"/><circle cx="132.43" cy="55.78" r="0.75"/><circle cx="133.24" cy="103.81" r="0.75"/><circle cx="124.01" cy="83.65" r="0.75"/><circle cx="132.07" cy="59.67" r="0.75"/><circle cx="129.16" cy="81.57" r="0.75"/><circle cx="124.39" cy="75.85" r="0.75"/><circle cx="125.04" cy="84.61" r="0.75"/><circle cx="127.11" cy="89.31" r="0.75"/><circle cx="130.61" cy="90.39" r="0.75"/><circle cx="136.85" cy="76.35" r="0.75"/><circle cx="132.38" cy="58.25" r="0.75"/><circle cx="134.71" cy="71.19" r="0.75"/><circle cx="134.03" cy="91.58" r="0.75"/><circle cx="124.31" cy="86.97" r="0.75"/><circle cx="130.12" cy="86.28" r="0.75"/><circle cx="126" cy="79.99" r="0.75"/><circle cx="124.5" cy="71.01" r="0.75"/><circle cx="136.56" cy="82.31" r="0.75"/><circle cx="131.83" cy="73.4" r="0.75"/><circle cx="128.67" cy="86.68" r="0.75"/><circle cx="131.32" cy="79.4" r="0.75"/><circle cx="127.56" cy="93.38" r="0.75"/><circle cx="123.89" cy="80.6" r="0.75"/><circle cx="127.03" cy="75.44" r="0.75"/><circle cx="133.96" cy="86.5" r="0.75"/><circle cx="129" cy="83.24" r="0.75"/><circle cx="124.38" cy="92.63" r="0.75"/><circle cx="137.15" cy="74.02" r="0.75"/><circle cx="136.02" cy="84.94" r="0.75"/><circle cx="129.54" cy="80.93" r="0.75"/><circle cx="127.01" cy="60.69" r="0.75"/><circle cx="130.82" cy="85.02" r="0.75"/><circle cx="130.07" cy="93.83" r="0.75"/><circle cx="137.01" cy="77.08" r="0.75"/><circle cx="125.27" cy="86.43" r="0.75"/><circle cx="132.19" cy="72.06" r="0.75"/><circle cx="124.41" cy="76.81" r="0.75"/><circle cx="130.88" cy="83.48" r="0.75"/><circle cx="132.78" cy="88.14" r="0.75"/><circle cx="129.9" cy="88.09" r="0.75"/><circle cx="129.41" cy="81.2" r="0.75"/><circle cx="134.28" cy="92.54" r="0.75"/><circle cx="136.66" cy="54.7" r="0.75"/><circle cx="133.69" cy="76.66" r="0.75"/><circle cx="135.84" cy="82.29" r="0.75"/><circle cx="134.37" cy="85.92" r="0.75"/><circle cx="127.39" cy="76.66" r="0.75"/><circle cx="133.02" cy="76.66" r="0.75"/><circle cx="132.31" cy="72.17" r="0.75"/><circle cx="133.95" cy="77.75" r="0.75"/><circle cx="137.02" cy="84.24" r="0.75"/><circle cx="136.15" cy="87.63" r="0.75"/><circle cx="124.53" cy="83.64" r="0.75"/><circle cx="127.38" cy="80.43" r="0.75"/><circle cx="125.09" cy="72.03" r="0.75"/><circle cx="131.07" cy="87.06" r="0.75"/><circle cx="132.9" cy="85.05" r="0.75"/><circle cx="131.19" cy="83.5" r="0.75"/><circle cx="130.21" cy="76.75" r="0.75"/><circle cx="126.56" cy="76.33" r="0.75"/><circle cx="135.1" cy="74.66" r="0.75"/><circle cx="124.71" cy="93" r="0.75"/><circle cx="132.18" cy="92.63" r="0.75"/><circle cx="134.16" cy="91.95" r="0.75"/><circle cx="127.21" cy="83.93" r="0.75"/><circle cx="134.71" cy="90.18" r="0.75"/><circle cx="137.15" cy="74.08" r="0.75"/><circle cx="128.13" cy="90.54" r="0.75"/><circle cx="136.22" cy="69.37" r="0.75"/><circle cx="129.52" cy="78.02" r="0.75"/><circle cx="135.6" cy="79.54" r="0.75"/><circle cx="124.77" cy="84.65" r="0.75"/><circle cx="130.29" cy="90.94" r="0.75"/><circle cx="133.02" cy="87.14" r="0.75"/><circle cx="124.73" cy="77.82" r="0.75"/><circle cx="126.6" cy="95.18" r="0.75"/><circle cx="127.83" cy="80.27" r="0.75"/><circle cx="133.56" cy="79.19" r="0.75"/><circle cx="125.64" cy="79.75" r="0.75"/><circle cx="128.57" cy="75.88" r="0.75"/><circle cx="125.3" cy="80.85" r="0.75"/><circle cx="133.35" cy="74.44" r="0.75"/><circle cx="136.48" cy="65.75" r="0.75"/><circle cx="136.12" cy="74.45" r="0.75"/><circle cx="127.84" cy="68.66" r="0.75"/><circle cx="128.02" cy="87.48" r="0.75"/><circle cx="135.87" cy="66.91" r="0.75"/><circle cx="127.08" cy="93.02" r="0.75"/><circle cx="128.64" cy="77.07" r="0.75"/><circle cx="129.08" cy="87.83" r="0.75"/><circle cx="131.37" cy="77.99" r="0.75"/><circle cx="134.54" cy="85.42" r="0.75"/><circle cx="131.35" cy="67.27" r="0.75"/><circle cx="126.1" cy="78.16" r="0.75"/><circle cx="127.53" cy="82.93" r="0.75"/><circle cx="124" cy="65.52" r="0.75"/><circle cx="131.42" cy="72.02" r="0.75"/><circle cx="136.84" cy="81.02" r="0.75"/><circle cx="124.57" cy="73.6" r="0.75"/><circle cx="131.14" cy="70.25" r="0.75"/><circle cx="124.81" cy="82.79" r="0.75"/><circle cx="133.72" cy="78.74" r="0.75"/><circle cx="132.32" cy="84.71" r="0.75"/><circle cx="125.66" cy="80.01" r="0.75"/><circle cx="127.04" cy="81.69" r="0.75"/><circle cx="126.7" cy="70.43" r="0.75"/><circle cx="134.1" cy="82.94" r="0.75"/><circle cx="129.06" cy="72.33" r="0.75"/><circle cx="132.84" cy="70.98" r="0.75"/><circle cx="130.41" cy="99.9" r="0.75"/><circle cx="133.33" cy="69.57" r="0.75"/><circle cx="136.14" cy="79.03" r="0.75"/><circle cx="132.77" cy="69.33" r="0.75"/><circle cx="135.31" cy="89.97" r="0.75"/><circle cx="135.79" cy="87.22" r="0.75"/><circle cx="136.73" cy="67.77" r="0.75"/><circle cx="133.36" cy="75.8" r="0.75"/><circle cx="134.61" cy="74.48" r="0.75"/><circle cx="125.69" cy="74.64" r="0.75"/><circle cx="133.78" cy="85.95" r="0.75"/><circle cx="125.98" cy="89.75" r="0.75"/><circle cx="127.25" cy="81.81" r="0.75"/><circle cx="135.67" cy="79.41" r="0.75"/><circle cx="125.65" cy="83.32" r="0.75"/><circle cx="132.13" cy="81.38" r="0.75"/><circle cx="133.54" cy="83.61" r="0.75"/><circle cx="130.05" cy="82.54" r="0.75"/><circle cx="131.42" cy="83.13" r="0.75"/><circle cx="126.2" cy="82.8" r="0.75"/><circle cx="127.03" cy="81.49" r="0.75"/><circle cx="132.89" cy="82.52" r="0.75"/><circle cx="131.54" cy="84.51" r="0.75"/><circle cx="128.09" cy="82.36" r="0.75"/><circle cx="126.9" cy="84.21" r="0.75"/><circle cx="131.03" cy="82.14" r="0.75"/><circle cx="133.99" cy="78.98" r="0.75"/><circle cx="134.76" cy="79.3" r="0.75"/><circle cx="135.06" cy="82.35" r="0.75"/><circle cx="135.53" cy="79.59" r="0.75"/><circle cx="130.31" cy="85.69" r="0.75"/><circle cx="135.42" cy="82.2" r="0.75"/><circle cx="133.82" cy="83.1" r="0.75"/><circle cx="130.67" cy="78.79" r="0.75"/><circle cx="128.02" cy="84.84" r="0.75"/><circle cx="127.61" cy="87.11" r="0.75"/><circle cx="125.12" cy="81.69" r="0.75"/><circle cx="133.76" cy="78.68" r="0.75"/><circle cx="132.85" cy="82.58" r="0.75"/><circle cx="126.73" cy="80.39" r="0.75"/><circle cx="128.54" cy="80.73" r="0.75"/><circle cx="130.68" cy="81.58" r="0.75"/><circle cx="132.01" cy="89.05" r="0.75"/><circle cx="130.88" cy="84.75" r="0.75"/><circle cx="126.66" cy="81.88" r="0.75"/><circle cx="134.04" cy="82.02" r="0.75"/><circle cx="134.31" cy="81.82" r="0.75"/><circle cx="127.97" cy="82.64" r="0.75"/><circle cx="132.88" cy="80.69" r="0.75"/><circle cx="130.16" cy="85.28" r="0.75"/><circle cx="135.51" cy="84.3" r="0.75"/><circle cx="128.34" cy="76.09" r="0.75"/><circle cx="133.68" cy="78.42" r="0.75"/><circle cx="126" cy="75.23" r="0.75"/><circle cx="134.09" cy="85.89" r="0.75"/><circle cx="130.78" cy="83.13" r="0.75"/><circle cx="126.73" cy="86.23" r="0.75"/><circle cx="128.42" cy="83.49" r="0.75"/><circle cx="125.84" cy="79.37" r="0.75"/><circle cx="132.87" cy="80.65" r="0.75"/><circle cx="128.96" cy="85.69" r="0.75"/><circle cx="129.34" cy="81.36" r="0.75"/><circle cx="130.08" cy="80.47" r="0.75"/><circle cx="132.19" cy="88.44" r="0.75"/><circle cx="125.14" cy="80.64" r="0.75"/><circle cx="127.61" cy="78.05" r="0.75"/><circle cx="131.21" cy="85.84" r="0.75"/><circle cx="135.91" cy="81.51" r="0.75"/><circle cx="133.79" cy="82.13" r="0.75"/><circle cx="128.19" cy="83.3" r="0.75"/><circle cx="129.14" cy="86.67" r="0.75"/><circle cx="128.71" cy="79.15" r="0.75"/></g>
<g stroke="#000" stroke-opacity="0.55" stroke-width="0.5"><line x1="63.3" y1="66" x2="63.3" y2="110"/><line x1="130.5" y1="45" x2="130.5" y2="108"/></g>
<g fill="#777" fill-opacity="0.7"><circle cx="68.2" cy="37.4" r="0.5"/><circle cx="57.5" cy="61" r="0.5"/><circle cx="57" cy="61.5" r="0.5"/><circle cx="69" cy="71.5" r="0.5"/><circle cx="70" cy="109" r="0.5"/><circle cx="136" cy="32" r="0.5"/><circle cx="137.5" cy="55" r="0.5"/><circle cx="126" cy="98" r="0.5"/><circle cx="124.5" cy="99" r="0.5"/></g>
<line x1="21" y1="20" x2="23" y2="20" stroke="#8f8f8f" stroke-width="0.8"/><text x="19.8" y="22.3" text-anchor="end" fill="#444" stroke="#444">6</text>
<line x1="21" y1="42.5" x2="23" y2="42.5" stroke="#8f8f8f" stroke-width="0.8"/><text x="19.8" y="44.8" text-anchor="end" fill="#444" stroke="#444">4</text>
<line x1="21" y1="65" x2="23" y2="65" stroke="#8f8f8f" stroke-width="0.8"/><text x="19.8" y="67.3" text-anchor="end" fill="#444" stroke="#444">2</text>
<line x1="21" y1="87.5" x2="23" y2="87.5" stroke="#8f8f8f" stroke-width="0.8"/><text x="19.8" y="89.8" text-anchor="end" fill="#444" stroke="#444">0</text>
<line x1="21" y1="110" x2="23" y2="110" stroke="#8f8f8f" stroke-width="0.8"/><text x="19.8" y="112.3" text-anchor="end" fill="#444" stroke="#444">−2</text>
<line x1="63.3" y1="120.8" x2="63.3" y2="122.8" stroke="#8f8f8f" stroke-width="0.8"/><text x="67.7" y="128.8" text-anchor="middle" fill="#444" stroke="#444">Control</text>
<line x1="130.5" y1="120.8" x2="130.5" y2="122.8" stroke="#8f8f8f" stroke-width="0.8"/><text x="137" y="128.8" text-anchor="middle" fill="#444" stroke="#444">Inoculation</text>
<text transform="translate(5.9,60.2) rotate(-90)" text-anchor="middle" font-size="6.75" fill="#111" stroke="#111">Post-Pre Difference score (Vulnerability)</text>
<rect x="26" y="142.8" width="144.5" height="103.7" fill="none" stroke="#8f8f8f" stroke-width="1.0"/>
<path d="M65.3,147 L65.33,147.25 L65.36,147.5 L65.38,147.75 L65.38,148 L65.38,148.25 L65.38,148.5 L65.38,148.75 L65.38,149 L65.38,149.25 L65.38,149.5 L65.38,149.75 L65.38,150 L65.38,150.25 L65.38,150.5 L65.38,150.75 L65.38,151 L65.38,151.25 L65.38,151.5 L65.38,151.75 L65.38,152 L65.38,152.25 L65.38,152.5 L65.38,152.75 L65.38,153 L65.38,153.25 L65.38,153.5 L65.38,153.75 L65.38,154 L65.38,154.25 L65.39,154.5 L65.4,154.75 L65.4,155 L65.41,155.25 L65.42,155.5 L65.42,155.75 L65.42,156 L65.41,156.25 L65.41,156.5 L65.4,156.75 L65.39,157 L65.38,157.25 L65.38,157.5 L65.38,157.75 L65.38,158 L65.38,158.25 L65.38,158.5 L65.38,158.75 L65.38,159 L65.38,159.25 L65.38,159.5 L65.38,159.75 L65.38,160 L65.38,160.25 L65.38,160.5 L65.38,160.75 L65.38,161 L65.38,161.25 L65.38,161.5 L65.38,161.75 L65.38,162 L65.38,162.25 L65.39,162.5 L65.4,162.75 L65.41,163 L65.41,163.25 L65.42,163.5 L65.42,163.75 L65.42,164 L65.41,164.25 L65.4,164.5 L65.4,164.75 L65.39,165 L65.38,165.25 L65.38,165.5 L65.38,165.75 L65.38,166 L65.38,166.25 L65.38,166.5 L65.39,166.75 L65.39,167 L65.39,167.25 L65.4,167.5 L65.4,167.75 L65.41,168 L65.41,168.25 L65.41,168.5 L65.42,168.75 L65.42,169 L65.43,169.25 L65.43,169.5 L65.44,169.75 L65.45,170 L65.45,170.25 L65.46,170.5 L65.46,170.75 L65.47,171 L65.47,171.25 L65.47,171.5 L65.48,171.75 L65.48,172 L65.49,172.25 L65.49,172.5 L65.49,172.75 L65.5,173 L65.5,173.25 L65.5,173.5 L65.5,173.75 L65.5,174 L65.5,174.25 L65.49,174.5 L65.47,174.75 L65.46,175 L65.45,175.25 L65.43,175.5 L65.42,175.75 L65.42,176 L65.45,176.25 L65.54,176.5 L65.67,176.75 L65.83,177 L66.01,177.25 L66.19,177.5 L66.35,177.75 L66.49,178 L66.59,178.25 L66.65,178.5 L66.7,178.75 L66.75,179 L66.8,179.25 L66.84,179.5 L66.87,179.75 L66.91,180 L66.94,180.25 L66.97,180.5 L67,180.75 L67.03,181 L67.07,181.25 L67.1,181.5 L67.13,181.75 L67.17,182 L67.21,182.25 L67.25,182.5 L67.29,182.75 L67.33,183 L67.38,183.25 L67.42,183.5 L67.47,183.75 L67.51,184 L67.56,184.25 L67.6,184.5 L67.65,184.75 L67.69,185 L67.73,185.25 L67.78,185.5 L67.82,185.75 L67.87,186 L67.91,186.25 L67.95,186.5 L67.99,186.75 L68.03,187 L68.07,187.25 L68.1,187.5 L68.14,187.75 L68.18,188 L68.22,188.25 L68.26,188.5 L68.3,188.75 L68.34,189 L68.39,189.25 L68.44,189.5 L68.49,189.75 L68.55,190 L68.61,190.25 L68.68,190.5 L68.75,190.75 L68.82,191 L68.9,191.25 L68.98,191.5 L69.07,191.75 L69.16,192 L69.25,192.25 L69.34,192.5 L69.43,192.75 L69.52,193 L69.61,193.25 L69.7,193.5 L69.79,193.75 L69.89,194 L69.98,194.25 L70.08,194.5 L70.19,194.75 L70.29,195 L70.39,195.25 L70.5,195.5 L70.6,195.75 L70.7,196 L70.79,196.25 L70.87,196.5 L70.94,196.75 L71.02,197 L71.1,197.25 L71.19,197.5 L71.31,197.75 L71.46,198 L71.65,198.25 L72.12,198.5 L72.89,198.75 L73.84,199 L74.85,199.25 L75.8,199.5 L76.74,199.75 L77.74,200 L78.77,200.25 L79.78,200.5 L80.72,200.75 L81.58,201 L82.39,201.25 L83.16,201.5 L83.91,201.75 L84.66,202 L85.43,202.25 L86.24,202.5 L87.22,202.75 L88.29,203 L89.34,203.25 L90.24,203.5 L90.86,203.75 L91.1,204 L90.86,204.25 L90.24,204.5 L89.34,204.75 L88.29,205 L87.22,205.25 L86.24,205.5 L85.42,205.75 L84.63,206 L83.84,206.25 L83.05,206.5 L82.28,206.75 L81.51,207 L80.75,207.25 L80,207.5 L79.27,207.75 L78.54,208 L77.82,208.25 L77.09,208.5 L76.34,208.75 L75.49,209 L74.63,209.25 L73.82,209.5 L73.15,209.75 L72.7,210 L72.41,210.25 L72.18,210.5 L71.98,210.75 L71.81,211 L71.66,211.25 L71.5,211.5 L71.34,211.75 L71.19,212 L71.05,212.25 L70.91,212.5 L70.77,212.75 L70.64,213 L70.52,213.25 L70.4,213.5 L70.28,213.75 L70.17,214 L70.05,214.25 L69.94,214.5 L69.84,214.75 L69.73,215 L69.64,215.25 L69.54,215.5 L69.45,215.75 L69.36,216 L69.27,216.25 L69.18,216.5 L69.08,216.75 L68.98,217 L68.88,217.25 L68.78,217.5 L68.68,217.75 L68.58,218 L68.47,218.25 L68.37,218.5 L68.27,218.75 L68.17,219 L68.08,219.25 L67.98,219.5 L67.89,219.75 L67.8,220 L67.72,220.25 L67.63,220.5 L67.55,220.75 L67.48,221 L67.4,221.25 L67.33,221.5 L67.25,221.75 L67.18,222 L67.1,222.25 L67.03,222.5 L66.95,222.75 L66.87,223 L66.79,223.25 L66.7,223.5 L66.62,223.75 L66.54,224 L66.45,224.25 L66.37,224.5 L66.29,224.75 L66.2,225 L66.11,225.25 L66,225.5 L65.89,225.75 L65.78,226 L65.68,226.25 L65.59,226.5 L65.53,226.75 L65.5,227 L65.49,227.25 L65.48,227.5 L65.46,227.75 L65.45,228 L65.44,228.25 L65.43,228.5 L65.42,228.75 L65.41,229 L65.41,229.25 L65.4,229.5 L65.39,229.75 L65.38,230 L65.37,230.25 L65.37,230.5 L65.36,230.75 L65.36,231 L65.35,231.25 L65.34,231.5 L65.34,231.75 L65.34,232 L65.33,232.25 L65.33,232.5 L65.32,232.75 L65.32,233 L65.32,233.25 L65.31,233.5 L65.31,233.75 L65.31,234 L65.31,234.25 L65.31,234.5 L65.3,234.75 L65.3,235 L65.3,235.25 L65.3,235.5 L65.3,235.75 L65.3,236 L65.3,236.25 L65.3,236.3 L65.3,236.3 L65.3,236.25 L65.3,236 L65.3,235.75 L65.3,235.5 L65.3,235.25 L65.3,235 L65.3,234.75 L65.29,234.5 L65.29,234.25 L65.29,234 L65.29,233.75 L65.29,233.5 L65.28,233.25 L65.28,233 L65.28,232.75 L65.27,232.5 L65.27,232.25 L65.26,232 L65.26,231.75 L65.26,231.5 L65.25,231.25 L65.24,231 L65.24,230.75 L65.23,230.5 L65.23,230.25 L65.22,230 L65.21,229.75 L65.2,229.5 L65.19,229.25 L65.19,229 L65.18,228.75 L65.17,228.5 L65.16,228.25 L65.15,228 L65.14,227.75 L65.12,227.5 L65.11,227.25 L65.1,227 L65.07,226.75 L65.01,226.5 L64.92,226.25 L64.82,226 L64.71,225.75 L64.6,225.5 L64.49,225.25 L64.4,225 L64.31,224.75 L64.23,224.5 L64.15,224.25 L64.06,224 L63.98,223.75 L63.9,223.5 L63.81,223.25 L63.73,223 L63.65,222.75 L63.57,222.5 L63.5,222.25 L63.42,222 L63.35,221.75 L63.27,221.5 L63.2,221.25 L63.12,221 L63.05,220.75 L62.97,220.5 L62.88,220.25 L62.8,220 L62.71,219.75 L62.62,219.5 L62.52,219.25 L62.43,219 L62.33,218.75 L62.23,218.5 L62.13,218.25 L62.02,218 L61.92,217.75 L61.82,217.5 L61.72,217.25 L61.62,217 L61.52,216.75 L61.42,216.5 L61.33,216.25 L61.24,216 L61.15,215.75 L61.06,215.5 L60.96,215.25 L60.87,215 L60.76,214.75 L60.66,214.5 L60.55,214.25 L60.43,214 L60.32,213.75 L60.2,213.5 L60.08,213.25 L59.96,213 L59.83,212.75 L59.69,212.5 L59.55,212.25 L59.41,212 L59.26,211.75 L59.1,211.5 L58.94,211.25 L58.79,211 L58.62,210.75 L58.42,210.5 L58.19,210.25 L57.9,210 L57.45,209.75 L56.78,209.5 L55.97,209.25 L55.11,209 L54.26,208.75 L53.51,208.5 L52.78,208.25 L52.06,208 L51.33,207.75 L50.6,207.5 L49.85,207.25 L49.09,207 L48.32,206.75 L47.55,206.5 L46.76,206.25 L45.97,206 L45.18,205.75 L44.36,205.5 L43.38,205.25 L42.31,205 L41.26,204.75 L40.36,204.5 L39.74,204.25 L39.5,204 L39.74,203.75 L40.36,203.5 L41.26,203.25 L42.31,203 L43.38,202.75 L44.36,202.5 L45.17,202.25 L45.94,202 L46.69,201.75 L47.44,201.5 L48.21,201.25 L49.02,201 L49.88,200.75 L50.82,200.5 L51.83,200.25 L52.86,200 L53.86,199.75 L54.8,199.5 L55.75,199.25 L56.76,199 L57.71,198.75 L58.48,198.5 L58.95,198.25 L59.14,198 L59.29,197.75 L59.41,197.5 L59.5,197.25 L59.58,197 L59.66,196.75 L59.73,196.5 L59.81,196.25 L59.9,196 L60,195.75 L60.1,195.5 L60.21,195.25 L60.31,195 L60.41,194.75 L60.52,194.5 L60.62,194.25 L60.71,194 L60.81,193.75 L60.9,193.5 L60.99,193.25 L61.08,193 L61.17,192.75 L61.26,192.5 L61.35,192.25 L61.44,192 L61.53,191.75 L61.62,191.5 L61.7,191.25 L61.78,191 L61.85,190.75 L61.92,190.5 L61.99,190.25 L62.05,190 L62.11,189.75 L62.16,189.5 L62.21,189.25 L62.26,189 L62.3,188.75 L62.34,188.5 L62.38,188.25 L62.42,188 L62.46,187.75 L62.5,187.5 L62.53,187.25 L62.57,187 L62.61,186.75 L62.65,186.5 L62.69,186.25 L62.73,186 L62.78,185.75 L62.82,185.5 L62.87,185.25 L62.91,185 L62.95,184.75 L63,184.5 L63.04,184.25 L63.09,184 L63.13,183.75 L63.18,183.5 L63.22,183.25 L63.27,183 L63.31,182.75 L63.35,182.5 L63.39,182.25 L63.43,182 L63.47,181.75 L63.5,181.5 L63.53,181.25 L63.57,181 L63.6,180.75 L63.63,180.5 L63.66,180.25 L63.69,180 L63.73,179.75 L63.76,179.5 L63.8,179.25 L63.85,179 L63.9,178.75 L63.95,178.5 L64.01,178.25 L64.11,178 L64.25,177.75 L64.41,177.5 L64.59,177.25 L64.77,177 L64.93,176.75 L65.06,176.5 L65.15,176.25 L65.18,176 L65.18,175.75 L65.17,175.5 L65.15,175.25 L65.14,175 L65.13,174.75 L65.11,174.5 L65.1,174.25 L65.1,174 L65.1,173.75 L65.1,173.5 L65.1,173.25 L65.1,173 L65.11,172.75 L65.11,172.5 L65.11,172.25 L65.12,172 L65.12,171.75 L65.13,171.5 L65.13,171.25 L65.13,171 L65.14,170.75 L65.14,170.5 L65.15,170.25 L65.15,170 L65.16,169.75 L65.17,169.5 L65.17,169.25 L65.18,169 L65.18,168.75 L65.19,168.5 L65.19,168.25 L65.19,168 L65.2,167.75 L65.2,167.5 L65.21,167.25 L65.21,167 L65.21,166.75 L65.22,166.5 L65.22,166.25 L65.22,166 L65.22,165.75 L65.22,165.5 L65.22,165.25 L65.21,165 L65.2,164.75 L65.2,164.5 L65.19,164.25 L65.18,164 L65.18,163.75 L65.18,163.5 L65.19,163.25 L65.19,163 L65.2,162.75 L65.21,162.5 L65.22,162.25 L65.22,162 L65.22,161.75 L65.22,161.5 L65.22,161.25 L65.22,161 L65.22,160.75 L65.22,160.5 L65.22,160.25 L65.22,160 L65.22,159.75 L65.22,159.5 L65.22,159.25 L65.22,159 L65.22,158.75 L65.22,158.5 L65.22,158.25 L65.22,158 L65.22,157.75 L65.22,157.5 L65.22,157.25 L65.21,157 L65.2,156.75 L65.19,156.5 L65.19,156.25 L65.18,156 L65.18,155.75 L65.18,155.5 L65.19,155.25 L65.2,155 L65.2,154.75 L65.21,154.5 L65.22,154.25 L65.22,154 L65.22,153.75 L65.22,153.5 L65.22,153.25 L65.22,153 L65.22,152.75 L65.22,152.5 L65.22,152.25 L65.22,152 L65.22,151.75 L65.22,151.5 L65.22,151.25 L65.22,151 L65.22,150.75 L65.22,150.5 L65.22,150.25 L65.22,150 L65.22,149.75 L65.22,149.5 L65.22,149.25 L65.22,149 L65.22,148.75 L65.22,148.5 L65.22,148.25 L65.22,148 L65.22,147.75 L65.24,147.5 L65.27,147.25 L65.3,147 Z" fill="#F8766D" stroke="#111" stroke-width="0.5" stroke-linejoin="round"/>
<path d="M130.8,166.2 L130.83,166.45 L130.86,166.7 L130.88,166.95 L130.88,167.2 L130.88,167.45 L130.88,167.7 L130.88,167.95 L130.88,168.2 L130.88,168.45 L130.88,168.7 L130.88,168.95 L130.88,169.2 L130.88,169.45 L130.88,169.7 L130.88,169.95 L130.88,170.2 L130.88,170.45 L130.88,170.7 L130.9,170.95 L131,171.2 L131.14,171.45 L131.28,171.7 L131.35,171.95 L131.33,172.2 L131.25,172.45 L131.15,172.7 L131.06,172.95 L131.01,173.2 L131,173.45 L131,173.7 L131,173.95 L131.01,174.2 L131.02,174.45 L131.02,174.7 L131.03,174.95 L131.05,175.2 L131.06,175.45 L131.08,175.7 L131.1,175.95 L131.19,176.2 L131.46,176.45 L131.81,176.7 L132.14,176.95 L132.43,177.2 L132.75,177.45 L133.06,177.7 L133.34,177.95 L133.54,178.2 L133.67,178.45 L133.78,178.7 L133.88,178.95 L133.97,179.2 L134.03,179.45 L134.08,179.7 L134.1,179.95 L134.09,180.2 L134.05,180.45 L133.99,180.7 L133.91,180.95 L133.82,181.2 L133.71,181.45 L133.6,181.7 L133.44,181.95 L133.21,182.2 L132.95,182.45 L132.68,182.7 L132.44,182.95 L132.23,183.2 L131.99,183.45 L131.8,183.7 L131.7,183.95 L131.74,184.2 L131.88,184.45 L132.07,184.7 L132.27,184.95 L132.45,185.2 L132.67,185.45 L132.9,185.7 L133.09,185.95 L133.2,186.2 L133.26,186.45 L133.31,186.7 L133.36,186.95 L133.39,187.2 L133.4,187.45 L133.39,187.7 L133.35,187.95 L133.29,188.2 L133.21,188.45 L133.12,188.7 L133.02,188.95 L132.89,189.2 L132.68,189.45 L132.44,189.7 L132.23,189.95 L132.11,190.2 L132.1,190.45 L132.1,190.7 L132.1,190.95 L132.1,191.2 L132.1,191.45 L132.28,191.7 L132.89,191.95 L133.69,192.2 L134.44,192.45 L135.24,192.7 L136.11,192.95 L136.96,193.2 L137.68,193.45 L138.27,193.7 L138.86,193.95 L139.44,194.2 L139.96,194.45 L140.4,194.7 L140.72,194.95 L140.88,195.2 L140.88,195.45 L140.79,195.7 L140.62,195.95 L140.41,196.2 L140.16,196.45 L139.9,196.7 L139.65,196.95 L139.39,197.2 L139.08,197.45 L138.73,197.7 L138.36,197.95 L137.99,198.2 L137.64,198.45 L137.32,198.7 L137.05,198.95 L136.81,199.2 L136.57,199.45 L136.36,199.7 L136.22,199.95 L136.5,200.2 L138.88,200.45 L141.24,200.7 L143.43,200.95 L145.64,201.2 L147.76,201.45 L149.68,201.7 L151.3,201.95 L152.87,202.2 L154.45,202.45 L155.98,202.7 L157.36,202.95 L158.5,203.2 L159.33,203.45 L159.76,203.7 L159.66,203.95 L158.9,204.2 L157.63,204.45 L156,204.7 L154.18,204.95 L152.36,205.2 L150.67,205.45 L148.89,205.7 L146.92,205.95 L144.89,206.2 L142.9,206.45 L141.07,206.7 L139.33,206.95 L137.5,207.2 L136.44,207.45 L136.43,207.7 L136.53,207.95 L136.68,208.2 L136.87,208.45 L137.11,208.7 L137.57,208.95 L138.19,209.2 L138.87,209.45 L139.5,209.7 L139.94,209.95 L140.21,210.2 L140.45,210.45 L140.69,210.7 L140.9,210.95 L141.09,211.2 L141.24,211.45 L141.37,211.7 L141.45,211.95 L141.5,212.2 L141.48,212.45 L141.34,212.7 L141.09,212.95 L140.77,213.2 L140.4,213.45 L139.99,213.7 L139.58,213.95 L139.14,214.2 L138.58,214.45 L137.94,214.7 L137.26,214.95 L136.57,215.2 L135.92,215.45 L135.31,215.7 L134.69,215.95 L134.08,216.2 L133.51,216.45 L132.9,216.7 L132.28,216.95 L132,217.2 L132.14,217.45 L132.44,217.7 L132.75,217.95 L132.99,218.2 L133.25,218.45 L133.49,218.7 L133.68,218.95 L133.79,219.2 L133.8,219.45 L133.79,219.7 L133.78,219.95 L133.76,220.2 L133.74,220.45 L133.71,220.7 L133.66,220.95 L133.5,221.2 L133.26,221.45 L132.97,221.7 L132.66,221.95 L132.27,222.2 L131.72,222.45 L131.21,222.7 L130.93,222.95 L130.93,223.2 L130.95,223.45 L130.98,223.7 L131,223.95 L131,224.2 L131,224.45 L131,224.7 L131,224.95 L131,225.2 L131,225.45 L131,225.7 L131,225.95 L131,226.2 L131,226.45 L131,226.7 L131,226.95 L131,227.2 L131,227.45 L131,227.7 L131,227.95 L131,228.2 L131,228.45 L131,228.7 L131,228.95 L131,229.2 L131,229.45 L131,229.7 L131,229.95 L131,230.2 L131,230.45 L131,230.7 L131,230.95 L131,231.2 L131,231.45 L131,231.7 L131,231.95 L131,232.2 L131,232.45 L131,232.7 L131,232.95 L131,233.2 L131,233.45 L131,233.7 L131,233.95 L131,234.2 L131,234.45 L131,234.7 L131,234.95 L131,235.2 L131,235.45 L131,235.7 L131,235.95 L131,236.2 L131,236.45 L131,236.7 L131,236.95 L131,237.2 L131,237.45 L131,237.7 L131,237.95 L131,238.2 L131,238.45 L131,238.7 L131,238.95 L131,239.2 L131,239.45 L131,239.7 L131,239.95 L131,240.2 L131,240.45 L131,240.7 L131,240.95 L130.99,241.2 L130.97,241.45 L130.93,241.7 L130.88,241.95 L130.83,242.2 L130.8,242.4 L130.8,242.4 L130.77,242.2 L130.72,241.95 L130.67,241.7 L130.63,241.45 L130.61,241.2 L130.6,240.95 L130.6,240.7 L130.6,240.45 L130.6,240.2 L130.6,239.95 L130.6,239.7 L130.6,239.45 L130.6,239.2 L130.6,238.95 L130.6,238.7 L130.6,238.45 L130.6,238.2 L130.6,237.95 L130.6,237.7 L130.6,237.45 L130.6,237.2 L130.6,236.95 L130.6,236.7 L130.6,236.45 L130.6,236.2 L130.6,235.95 L130.6,235.7 L130.6,235.45 L130.6,235.2 L130.6,234.95 L130.6,234.7 L130.6,234.45 L130.6,234.2 L130.6,233.95 L130.6,233.7 L130.6,233.45 L130.6,233.2 L130.6,232.95 L130.6,232.7 L130.6,232.45 L130.6,232.2 L130.6,231.95 L130.6,231.7 L130.6,231.45 L130.6,231.2 L130.6,230.95 L130.6,230.7 L130.6,230.45 L130.6,230.2 L130.6,229.95 L130.6,229.7 L130.6,229.45 L130.6,229.2 L130.6,228.95 L130.6,228.7 L130.6,228.45 L130.6,228.2 L130.6,227.95 L130.6,227.7 L130.6,227.45 L130.6,227.2 L130.6,226.95 L130.6,226.7 L130.6,226.45 L130.6,226.2 L130.6,225.95 L130.6,225.7 L130.6,225.45 L130.6,225.2 L130.6,224.95 L130.6,224.7 L130.6,224.45 L130.6,224.2 L130.6,223.95 L130.62,223.7 L130.65,223.45 L130.67,223.2 L130.67,222.95 L130.39,222.7 L129.88,222.45 L129.33,222.2 L128.94,221.95 L128.63,221.7 L128.34,221.45 L128.1,221.2 L127.94,220.95 L127.89,220.7 L127.86,220.45 L127.84,220.2 L127.82,219.95 L127.81,219.7 L127.8,219.45 L127.81,219.2 L127.92,218.95 L128.11,218.7 L128.35,218.45 L128.61,218.2 L128.85,217.95 L129.16,217.7 L129.46,217.45 L129.6,217.2 L129.32,216.95 L128.7,216.7 L128.09,216.45 L127.52,216.2 L126.91,215.95 L126.29,215.7 L125.68,215.45 L125.03,215.2 L124.34,214.95 L123.66,214.7 L123.02,214.45 L122.46,214.2 L122.02,213.95 L121.61,213.7 L121.2,213.45 L120.83,213.2 L120.51,212.95 L120.26,212.7 L120.12,212.45 L120.1,212.2 L120.15,211.95 L120.23,211.7 L120.36,211.45 L120.51,211.2 L120.7,210.95 L120.91,210.7 L121.15,210.45 L121.39,210.2 L121.66,209.95 L122.1,209.7 L122.73,209.45 L123.41,209.2 L124.03,208.95 L124.49,208.7 L124.73,208.45 L124.92,208.2 L125.07,207.95 L125.17,207.7 L125.16,207.45 L124.1,207.2 L122.27,206.95 L120.53,206.7 L118.7,206.45 L116.71,206.2 L114.68,205.95 L112.71,205.7 L110.93,205.45 L109.24,205.2 L107.42,204.95 L105.6,204.7 L103.97,204.45 L102.7,204.2 L101.94,203.95 L101.84,203.7 L102.27,203.45 L103.1,203.2 L104.24,202.95 L105.62,202.7 L107.15,202.45 L108.73,202.2 L110.3,201.95 L111.92,201.7 L113.84,201.45 L115.96,201.2 L118.17,200.95 L120.36,200.7 L122.72,200.45 L125.1,200.2 L125.38,199.95 L125.24,199.7 L125.03,199.45 L124.79,199.2 L124.55,198.95 L124.28,198.7 L123.96,198.45 L123.61,198.2 L123.24,197.95 L122.87,197.7 L122.52,197.45 L122.21,197.2 L121.95,196.95 L121.7,196.7 L121.44,196.45 L121.19,196.2 L120.98,195.95 L120.81,195.7 L120.72,195.45 L120.72,195.2 L120.88,194.95 L121.2,194.7 L121.64,194.45 L122.16,194.2 L122.74,193.95 L123.33,193.7 L123.92,193.45 L124.64,193.2 L125.49,192.95 L126.36,192.7 L127.16,192.45 L127.91,192.2 L128.71,191.95 L129.32,191.7 L129.5,191.45 L129.5,191.2 L129.5,190.95 L129.5,190.7 L129.5,190.45 L129.49,190.2 L129.37,189.95 L129.16,189.7 L128.92,189.45 L128.71,189.2 L128.58,188.95 L128.48,188.7 L128.39,188.45 L128.31,188.2 L128.25,187.95 L128.21,187.7 L128.2,187.45 L128.21,187.2 L128.24,186.95 L128.29,186.7 L128.34,186.45 L128.4,186.2 L128.51,185.95 L128.7,185.7 L128.93,185.45 L129.15,185.2 L129.33,184.95 L129.53,184.7 L129.72,184.45 L129.86,184.2 L129.9,183.95 L129.8,183.7 L129.61,183.45 L129.37,183.2 L129.16,182.95 L128.92,182.7 L128.65,182.45 L128.39,182.2 L128.16,181.95 L128,181.7 L127.89,181.45 L127.78,181.2 L127.69,180.95 L127.61,180.7 L127.55,180.45 L127.51,180.2 L127.5,179.95 L127.52,179.7 L127.57,179.45 L127.63,179.2 L127.72,178.95 L127.82,178.7 L127.93,178.45 L128.06,178.2 L128.26,177.95 L128.54,177.7 L128.85,177.45 L129.17,177.2 L129.46,176.95 L129.79,176.7 L130.14,176.45 L130.41,176.2 L130.5,175.95 L130.52,175.7 L130.54,175.45 L130.55,175.2 L130.57,174.95 L130.58,174.7 L130.58,174.45 L130.59,174.2 L130.6,173.95 L130.6,173.7 L130.6,173.45 L130.59,173.2 L130.54,172.95 L130.45,172.7 L130.35,172.45 L130.27,172.2 L130.25,171.95 L130.32,171.7 L130.46,171.45 L130.6,171.2 L130.7,170.95 L130.72,170.7 L130.72,170.45 L130.72,170.2 L130.72,169.95 L130.72,169.7 L130.72,169.45 L130.72,169.2 L130.72,168.95 L130.72,168.7 L130.72,168.45 L130.72,168.2 L130.72,167.95 L130.72,167.7 L130.72,167.45 L130.72,167.2 L130.72,166.95 L130.74,166.7 L130.77,166.45 L130.8,166.2 Z" fill="#00BFC4" stroke="#111" stroke-width="0.5" stroke-linejoin="round"/>
<g fill="#000" fill-opacity="0.45"><circle cx="63.9" cy="203.38" r="0.75"/><circle cx="61.4" cy="202.85" r="0.75"/><circle cx="68.31" cy="202" r="0.75"/><circle cx="66.12" cy="200.54" r="0.75"/><circle cx="68.21" cy="210.35" r="0.75"/><circle cx="60" cy="201.24" r="0.75"/><circle cx="60.63" cy="208.9" r="0.75"/><circle cx="68.01" cy="207.74" r="0.75"/><circle cx="61.14" cy="206.52" r="0.75"/><circle cx="66.51" cy="199.33" r="0.75"/><circle cx="59.97" cy="207.29" r="0.75"/><circle cx="60.41" cy="204.26" r="0.75"/><circle cx="64.09" cy="205.73" r="0.75"/><circle cx="64.35" cy="210.06" r="0.75"/><circle cx="65.45" cy="206.98" r="0.75"/><circle cx="69.47" cy="200.92" r="0.75"/><circle cx="63.82" cy="199.91" r="0.75"/><circle cx="59" cy="202.49" r="0.75"/><circle cx="64.01" cy="206.7" r="0.75"/><circle cx="69.07" cy="201.37" r="0.75"/><circle cx="59.04" cy="201.8" r="0.75"/><circle cx="63.1" cy="200.53" r="0.75"/><circle cx="60.18" cy="201.62" r="0.75"/><circle cx="63.71" cy="207.64" r="0.75"/><circle cx="69.53" cy="198.72" r="0.75"/><circle cx="66.75" cy="203.69" r="0.75"/><circle cx="70.54" cy="206.79" r="0.75"/><circle cx="65.93" cy="208.29" r="0.75"/><circle cx="60.64" cy="201.88" r="0.75"/><circle cx="68.07" cy="206.83" r="0.75"/><circle cx="68.1" cy="207.6" r="0.75"/><circle cx="69.66" cy="203.7" r="0.75"/><circle cx="66.95" cy="206.35" r="0.75"/><circle cx="61.37" cy="210.83" r="0.75"/><circle cx="66.29" cy="205.95" r="0.75"/><circle cx="67.86" cy="205.12" r="0.75"/><circle cx="63.5" cy="200.71" r="0.75"/><circle cx="64.82" cy="210.06" r="0.75"/><circle cx="60.56" cy="209.75" r="0.75"/><circle cx="70.55" cy="209.68" r="0.75"/><circle cx="66.08" cy="200.29" r="0.75"/><circle cx="62.24" cy="202.96" r="0.75"/><circle cx="69.43" cy="211.86" r="0.75"/><circle cx="66.62" cy="198.96" r="0.75"/><circle cx="62.55" cy="208.02" r="0.75"/><circle cx="70.46" cy="207.9" r="0.75"/><circle cx="69.6" cy="204.22" r="0.75"/><circle cx="61.21" cy="207.91" r="0.75"/><circle cx="59.22" cy="202.86" r="0.75"/><circle cx="61.14" cy="203.65" r="0.75"/><circle cx="67.36" cy="211.08" r="0.75"/><circle cx="62.8" cy="203.42" r="0.75"/><circle cx="63.76" cy="201.67" r="0.75"/><circle cx="66.49" cy="199.68" r="0.75"/><circle cx="61.39" cy="204.18" r="0.75"/><circle cx="64.88" cy="203.49" r="0.75"/><circle cx="66.2" cy="205.85" r="0.75"/><circle cx="61.06" cy="206.32" r="0.75"/><circle cx="66.18" cy="201.67" r="0.75"/><circle cx="63.12" cy="203.71" r="0.75"/><circle cx="67.52" cy="203.48" r="0.75"/><circle cx="60.68" cy="203.35" r="0.75"/><circle cx="64.91" cy="207.93" r="0.75"/><circle cx="64.15" cy="202.97" r="0.75"/><circle cx="68.65" cy="200.73" r="0.75"/><circle cx="68.57" cy="200.78" r="0.75"/><circle cx="69.7" cy="204.86" r="0.75"/><circle cx="64.44" cy="205.89" r="0.75"/><circle cx="66.16" cy="201.57" r="0.75"/><circle cx="65.63" cy="207.03" r="0.75"/><circle cx="64.42" cy="201.94" r="0.75"/><circle cx="59.51" cy="206.18" r="0.75"/><circle cx="68.23" cy="202.51" r="0.75"/><circle cx="66.57" cy="207.94" r="0.75"/><circle cx="68.57" cy="201.14" r="0.75"/><circle cx="59.71" cy="202.64" r="0.75"/><circle cx="60.42" cy="207.79" r="0.75"/><circle cx="63.96" cy="200.65" r="0.75"/><circle cx="59.48" cy="205.16" r="0.75"/><circle cx="61.91" cy="202.76" r="0.75"/><circle cx="62.78" cy="200.55" r="0.75"/><circle cx="59.69" cy="202.26" r="0.75"/><circle cx="70.65" cy="205.34" r="0.75"/><circle cx="70.06" cy="208.34" r="0.75"/><circle cx="64.28" cy="203.07" r="0.75"/><circle cx="68.51" cy="204.72" r="0.75"/><circle cx="66.17" cy="202" r="0.75"/><circle cx="69.1" cy="205.12" r="0.75"/><circle cx="60.41" cy="203.22" r="0.75"/><circle cx="58.81" cy="202.28" r="0.75"/><circle cx="63.02" cy="204.1" r="0.75"/><circle cx="59.61" cy="206.53" r="0.75"/><circle cx="63.96" cy="208.36" r="0.75"/><circle cx="63.43" cy="200.62" r="0.75"/><circle cx="59.2" cy="203.21" r="0.75"/><circle cx="70.48" cy="203.53" r="0.75"/><circle cx="70.94" cy="202.75" r="0.75"/><circle cx="71.5" cy="207.29" r="0.75"/><circle cx="62.64" cy="201.99" r="0.75"/><circle cx="70.79" cy="204.35" r="0.75"/><circle cx="69.69" cy="205.58" r="0.75"/><circle cx="63.4" cy="202.8" r="0.75"/><circle cx="70.24" cy="202.18" r="0.75"/><circle cx="71.74" cy="204.32" r="0.75"/><circle cx="61.29" cy="205.26" r="0.75"/><circle cx="70.24" cy="208.05" r="0.75"/><circle cx="68.24" cy="205.35" r="0.75"/><circle cx="62.87" cy="204.44" r="0.75"/><circle cx="68.07" cy="208.91" r="0.75"/><circle cx="60.55" cy="200.45" r="0.75"/><circle cx="69.68" cy="214.97" r="0.75"/><circle cx="61.09" cy="200.93" r="0.75"/><circle cx="63.37" cy="188.5" r="0.75"/><circle cx="62.26" cy="215.79" r="0.75"/><circle cx="62.65" cy="186.14" r="0.75"/><circle cx="68.2" cy="213.22" r="0.75"/><circle cx="66.92" cy="196.86" r="0.75"/><circle cx="66.2" cy="225.53" r="0.75"/><circle cx="63.31" cy="188.82" r="0.75"/><circle cx="66.97" cy="227.9" r="0.75"/><circle cx="66.7" cy="191.5" r="0.75"/><circle cx="70.13" cy="181.04" r="0.75"/><circle cx="65.58" cy="200.66" r="0.75"/><circle cx="60.75" cy="205.73" r="0.75"/><circle cx="63.15" cy="209.58" r="0.75"/><circle cx="68.33" cy="190.05" r="0.75"/><circle cx="63.15" cy="180.88" r="0.75"/><circle cx="62.76" cy="218.32" r="0.75"/><circle cx="65.78" cy="191.63" r="0.75"/><circle cx="69.27" cy="186.44" r="0.75"/><circle cx="60.64" cy="231.31" r="0.75"/><circle cx="67.81" cy="201.85" r="0.75"/><circle cx="69.59" cy="197.54" r="0.75"/><circle cx="62.1" cy="203.99" r="0.75"/><circle cx="66.75" cy="207.14" r="0.75"/><circle cx="134.48" cy="199.81" r="0.75"/><circle cx="131.02" cy="209.09" r="0.75"/><circle cx="133.2" cy="195.31" r="0.75"/><circle cx="131.07" cy="203.69" r="0.75"/><circle cx="134.44" cy="206.65" r="0.75"/><circle cx="126.45" cy="203.17" r="0.75"/><circle cx="130.03" cy="201.43" r="0.75"/><circle cx="134.35" cy="201.93" r="0.75"/><circle cx="127.37" cy="205.81" r="0.75"/><circle cx="130.66" cy="196.25" r="0.75"/><circle cx="130.79" cy="205.07" r="0.75"/><circle cx="124.76" cy="209.83" r="0.75"/><circle cx="131.74" cy="198.15" r="0.75"/><circle cx="135.65" cy="199.93" r="0.75"/><circle cx="124.53" cy="205.1" r="0.75"/><circle cx="130.75" cy="206.34" r="0.75"/><circle cx="127.72" cy="199.55" r="0.75"/><circle cx="134.68" cy="205.94" r="0.75"/><circle cx="131.7" cy="212.81" r="0.75"/><circle cx="131.36" cy="208.32" r="0.75"/><circle cx="126.2" cy="204.86" r="0.75"/><circle cx="128.34" cy="200.8" r="0.75"/><circle cx="132.38" cy="207.77" r="0.75"/><circle cx="131.13" cy="205.03" r="0.75"/><circle cx="125.45" cy="203.45" r="0.75"/><circle cx="134.97" cy="209.97" r="0.75"/><circle cx="126.38" cy="205.63" r="0.75"/><circle cx="133.28" cy="207.04" r="0.75"/><circle cx="125.09" cy="207.85" r="0.75"/><circle cx="129.64" cy="197.09" r="0.75"/><circle cx="136.92" cy="201.93" r="0.75"/><circle cx="124.85" cy="206.36" r="0.75"/><circle cx="137.12" cy="196.4" r="0.75"/><circle cx="126.18" cy="204.5" r="0.75"/><circle cx="124.81" cy="196.85" r="0.75"/><circle cx="127.43" cy="206.06" r="0.75"/><circle cx="129.41" cy="205.92" r="0.75"/><circle cx="128.17" cy="202.42" r="0.75"/><circle cx="124.75" cy="202.4" r="0.75"/><circle cx="137.25" cy="204.82" r="0.75"/><circle cx="127.29" cy="204.61" r="0.75"/><circle cx="127.59" cy="196.7" r="0.75"/><circle cx="130.3" cy="200.83" r="0.75"/><circle cx="136.42" cy="202.93" r="0.75"/><circle cx="137.06" cy="201.32" r="0.75"/><circle cx="132.24" cy="207.08" r="0.75"/><circle cx="132.75" cy="208.43" r="0.75"/><circle cx="125.06" cy="205.13" r="0.75"/><circle cx="135.54" cy="200.17" r="0.75"/><circle cx="131.98" cy="209.78" r="0.75"/><circle cx="129.41" cy="207.79" r="0.75"/><circle cx="135.26" cy="200.72" r="0.75"/><circle cx="127.1" cy="198.24" r="0.75"/><circle cx="128.82" cy="209.33" r="0.75"/><circle cx="126.43" cy="206.3" r="0.75"/><circle cx="126.95" cy="209.2" r="0.75"/><circle cx="128.31" cy="205.12" r="0.75"/><circle cx="130.11" cy="208.93" r="0.75"/><circle cx="135.52" cy="210.78" r="0.75"/><circle cx="126.96" cy="203.72" r="0.75"/><circle cx="133.29" cy="202.7" r="0.75"/><circle cx="129.02" cy="205.17" r="0.75"/><circle cx="126.67" cy="203.87" r="0.75"/><circle cx="127.71" cy="204.86" r="0.75"/><circle cx="133.6" cy="196.02" r="0.75"/><circle cx="127.79" cy="210.36" r="0.75"/><circle cx="136.48" cy="202.33" r="0.75"/><circle cx="128.98" cy="205.99" r="0.75"/><circle cx="136.09" cy="204.71" r="0.75"/><circle cx="124.57" cy="196.82" r="0.75"/><circle cx="125.38" cy="202.06" r="0.75"/><circle cx="135.77" cy="207.99" r="0.75"/><circle cx="131.05" cy="200.48" r="0.75"/><circle cx="125.01" cy="210.88" r="0.75"/><circle cx="124.83" cy="201.39" r="0.75"/><circle cx="126.26" cy="206.05" r="0.75"/><circle cx="128.36" cy="203.06" r="0.75"/><circle cx="129.81" cy="203.35" r="0.75"/><circle cx="133.49" cy="201.66" r="0.75"/><circle cx="127.69" cy="203.34" r="0.75"/><circle cx="126.21" cy="202.98" r="0.75"/><circle cx="126.96" cy="197.41" r="0.75"/><circle cx="129.57" cy="202.65" r="0.75"/><circle cx="129.32" cy="210.98" r="0.75"/><circle cx="128.1" cy="206.15" r="0.75"/><circle cx="128.78" cy="201.6" r="0.75"/><circle cx="124.62" cy="204.28" r="0.75"/><circle cx="132.5" cy="205.27" r="0.75"/><circle cx="136.98" cy="196.51" r="0.75"/><circle cx="128.18" cy="200.71" r="0.75"/><circle cx="127.11" cy="199.17" r="0.75"/><circle cx="133.26" cy="195.14" r="0.75"/><circle cx="135.59" cy="198.39" r="0.75"/><circle cx="127.35" cy="194.29" r="0.75"/><circle cx="129.86" cy="202.69" r="0.75"/><circle cx="129.4" cy="202.56" r="0.75"/><circle cx="128.57" cy="208.11" r="0.75"/><circle cx="130.76" cy="205.63" r="0.75"/><circle cx="129.53" cy="203.51" r="0.75"/><circle cx="130.48" cy="206.6" r="0.75"/><circle cx="127.42" cy="207.33" r="0.75"/><circle cx="125.51" cy="209.77" r="0.75"/><circle cx="126.26" cy="201.43" r="0.75"/><circle cx="131.87" cy="207.95" r="0.75"/><circle cx="133.4" cy="202.28" r="0.75"/><circle cx="124.6" cy="198.55" r="0.75"/><circle cx="125.12" cy="200.68" r="0.75"/><circle cx="129.56" cy="206.7" r="0.75"/><circle cx="131.92" cy="208.96" r="0.75"/><circle cx="130.4" cy="205.77" r="0.75"/><circle cx="128.83" cy="194.14" r="0.75"/><circle cx="129.58" cy="173.6" r="0.75"/><circle cx="131.33" cy="232.64" r="0.75"/><circle cx="132.14" cy="189.81" r="0.75"/><circle cx="130.55" cy="184.65" r="0.75"/><circle cx="134.44" cy="213.84" r="0.75"/><circle cx="131.41" cy="196.66" r="0.75"/><circle cx="132.97" cy="236.08" r="0.75"/><circle cx="131.77" cy="214.66" r="0.75"/><circle cx="130.12" cy="199.94" r="0.75"/><circle cx="133.44" cy="190.78" r="0.75"/><circle cx="129.86" cy="231.82" r="0.75"/><circle cx="127.11" cy="233.85" r="0.75"/><circle cx="130.86" cy="181.24" r="0.75"/><circle cx="129.68" cy="192.99" r="0.75"/><circle cx="128" cy="238.43" r="0.75"/><circle cx="128.63" cy="185.09" r="0.75"/><circle cx="128.68" cy="218.25" r="0.75"/><circle cx="131.15" cy="172.06" r="0.75"/><circle cx="128.71" cy="198.79" r="0.75"/><circle cx="132" cy="205.57" r="0.75"/><circle cx="131.8" cy="209.27" r="0.75"/><circle cx="133.45" cy="210.13" r="0.75"/><circle cx="129.47" cy="237.88" r="0.75"/><circle cx="133.89" cy="195.57" r="0.75"/></g>
<g stroke="#000" stroke-opacity="0.55" stroke-width="0.5"><line x1="65.3" y1="175" x2="65.3" y2="228"/><line x1="130.8" y1="174" x2="130.8" y2="224"/></g>
<g fill="#777" fill-opacity="0.7"><circle cx="71" cy="161" r="0.5"/><circle cx="68" cy="185" r="0.5"/><circle cx="70.5" cy="188" r="0.5"/><circle cx="59" cy="210" r="0.5"/><circle cx="72" cy="211" r="0.5"/><circle cx="59" cy="220" r="0.5"/><circle cx="72" cy="222" r="0.5"/><circle cx="60" cy="230" r="0.5"/><circle cx="125.3" cy="180.2" r="0.5"/><circle cx="137.4" cy="178.6" r="0.5"/><circle cx="123.8" cy="187.7" r="0.5"/><circle cx="137.4" cy="186.2" r="0.5"/><circle cx="125.3" cy="221" r="0.5"/><circle cx="137.4" cy="230.2" r="0.5"/><circle cx="135.9" cy="169.5" r="0.5"/><circle cx="126" cy="224" r="0.5"/></g>
<line x1="24" y1="143.9" x2="26" y2="143.9" stroke="#8f8f8f" stroke-width="0.8"/><text x="22.8" y="146.2" text-anchor="end" fill="#444" stroke="#444">7.5</text>
<line x1="24" y1="163.8" x2="26" y2="163.8" stroke="#8f8f8f" stroke-width="0.8"/><text x="22.8" y="166.1" text-anchor="end" fill="#444" stroke="#444">5.0</text>
<line x1="24" y1="183.7" x2="26" y2="183.7" stroke="#8f8f8f" stroke-width="0.8"/><text x="22.8" y="186" text-anchor="end" fill="#444" stroke="#444">2.5</text>
<line x1="24" y1="203.6" x2="26" y2="203.6" stroke="#8f8f8f" stroke-width="0.8"/><text x="22.8" y="205.9" text-anchor="end" fill="#444" stroke="#444">0.0</text>
<line x1="24" y1="223.5" x2="26" y2="223.5" stroke="#8f8f8f" stroke-width="0.8"/><text x="22.8" y="225.8" text-anchor="end" fill="#444" stroke="#444">−2.5</text>
<line x1="24" y1="243.3" x2="26" y2="243.3" stroke="#8f8f8f" stroke-width="0.8"/><text x="22.8" y="245.6" text-anchor="end" fill="#444" stroke="#444">−5.0</text>
<line x1="65.3" y1="246.5" x2="65.3" y2="248.5" stroke="#8f8f8f" stroke-width="0.8"/><text x="70.3" y="254.5" text-anchor="middle" fill="#444" stroke="#444">Control</text>
<line x1="130.8" y1="246.5" x2="130.8" y2="248.5" stroke="#8f8f8f" stroke-width="0.8"/><text x="137.9" y="254.5" text-anchor="middle" fill="#444" stroke="#444">Inoculation</text>
<text transform="translate(5.9,189) rotate(-90)" text-anchor="middle" font-size="6.75" fill="#111" stroke="#111">Post-Pre Difference score (Vulnerability)</text>
<g fill="#111" fill-opacity="0.85"><ellipse cx="63.3" cy="37.4" rx="0.75" ry="1.5"/><ellipse cx="63.3" cy="60.5" rx="0.75" ry="1.5"/><ellipse cx="130.5" cy="31.2" rx="0.75" ry="1.5"/><ellipse cx="65.3" cy="155.8" rx="0.75" ry="1.5"/><ellipse cx="65.3" cy="163.7" rx="0.75" ry="1.5"/><ellipse cx="130.8" cy="172" rx="0.75" ry="1.5"/></g>
<path d="M209.3,116 L209.55,114.73 L209.8,113.76 L210.05,113.5 L210.3,113.35 L210.55,113.24 L210.8,113.15 L211.05,113.07 L211.3,113.02 L211.55,112.97 L211.8,112.93 L212.05,112.89 L212.3,112.86 L212.55,112.83 L212.8,112.81 L213.05,112.79 L213.3,112.77 L213.55,112.76 L213.8,112.74 L214.05,112.72 L214.3,112.7 L214.55,112.67 L214.8,112.64 L215.05,112.59 L215.3,112.49 L215.55,112.33 L215.8,112.13 L216.05,111.89 L216.3,111.63 L216.55,111.36 L216.8,111.09 L217.05,110.81 L217.3,110.49 L217.55,110.16 L217.8,109.8 L218.05,109.41 L218.3,109.01 L218.55,108.58 L218.8,108.14 L219.05,107.68 L219.3,107.2 L219.55,106.7 L219.8,106.17 L220.05,105.61 L220.3,105.01 L220.55,104.38 L220.8,103.71 L221.05,103.01 L221.3,102.26 L221.55,101.47 L221.8,100.64 L222.05,99.75 L222.3,98.75 L222.55,97.63 L222.8,96.43 L223.05,95.16 L223.3,93.83 L223.55,92.47 L223.8,91.1 L224.05,89.72 L224.3,88.3 L224.55,86.8 L224.8,85.25 L225.05,83.67 L225.3,82.09 L225.55,80.51 L225.8,78.94 L226.05,77.32 L226.3,75.67 L226.55,74.01 L226.8,72.36 L227.05,70.72 L227.3,69.12 L227.55,67.58 L227.8,66.11 L228.05,64.73 L228.3,63.37 L228.55,62.02 L228.8,60.69 L229.05,59.42 L229.3,58.23 L229.55,57.14 L229.8,56.17 L230.05,55.35 L230.3,54.6 L230.55,53.89 L230.8,53.22 L231.05,52.58 L231.3,51.97 L231.55,51.39 L231.8,50.85 L232.05,50.34 L232.3,49.85 L232.55,49.39 L232.8,48.97 L233.05,48.56 L233.3,48.18 L233.55,47.83 L233.8,47.51 L234.05,47.23 L234.3,46.97 L234.55,46.72 L234.8,46.49 L235.05,46.27 L235.3,46.05 L235.55,45.81 L235.8,45.57 L236.05,45.3 L236.3,45 L236.55,44.68 L236.8,44.35 L237.05,44 L237.3,43.63 L237.55,43.26 L237.8,42.86 L238.05,42.45 L238.3,42.01 L238.55,41.56 L238.8,41.09 L239.05,40.6 L239.3,40.06 L239.55,39.46 L239.8,38.81 L240.05,38.13 L240.3,37.42 L240.55,36.7 L240.8,35.97 L241.05,35.25 L241.3,34.54 L241.55,33.85 L241.8,33.2 L242.05,32.56 L242.3,31.89 L242.55,31.21 L242.8,30.53 L243.05,29.85 L243.3,29.19 L243.55,28.54 L243.8,27.92 L244.05,27.34 L244.3,26.8 L244.55,26.31 L244.8,25.89 L245.05,25.53 L245.3,25.2 L245.55,24.87 L245.8,24.54 L246.05,24.22 L246.3,23.91 L246.55,23.61 L246.8,23.33 L247.05,23.07 L247.3,22.82 L247.55,22.6 L247.8,22.4 L248.05,22.24 L248.3,22.1 L248.55,22 L248.8,21.93 L249.05,21.9 L249.3,21.91 L249.55,21.97 L249.8,22.06 L250.05,22.19 L250.3,22.34 L250.55,22.53 L250.8,22.74 L251.05,22.97 L251.3,23.22 L251.55,23.49 L251.8,23.77 L252.05,24.06 L252.3,24.44 L252.55,24.95 L252.8,25.55 L253.05,26.24 L253.3,27 L253.55,27.8 L253.8,28.64 L254.05,29.5 L254.3,30.36 L254.55,31.2 L254.8,32 L255.05,32.8 L255.3,33.62 L255.55,34.46 L255.8,35.32 L256.05,36.2 L256.3,37.07 L256.55,37.95 L256.8,38.81 L257.05,39.67 L257.3,40.48 L257.55,41.25 L257.8,42 L258.05,42.74 L258.3,43.51 L258.55,44.3 L258.8,45.16 L259.05,46.08 L259.3,47.1 L259.55,48.24 L259.8,49.49 L260.05,50.93 L260.3,52.61 L260.55,54.62 L260.8,57.22 L261.05,61.7 L261.3,66.47 L261.55,69.38 L261.8,71.07 L262.05,72.49 L262.3,73.69 L262.55,74.72 L262.8,75.63 L263.05,76.48 L263.3,77.31 L263.55,78.18 L263.8,78.98 L264.05,79.68 L264.3,80.33 L264.55,80.94 L264.8,81.55 L265.05,82.2 L265.3,82.92 L265.55,83.74 L265.8,84.7 L266.05,85.95 L266.3,87.57 L266.55,89.44 L266.8,91.45 L267.05,93.47 L267.3,95.4 L267.55,97.11 L267.8,98.5 L268.05,99.7 L268.3,100.91 L268.55,102.06 L268.8,103.12 L269.05,104.04 L269.3,104.76 L269.55,105.25 L269.8,105.46 L270.05,105.6 L270.3,105.72 L270.55,105.81 L270.8,105.89 L271.05,105.96 L271.3,106.03 L271.55,106.09 L271.8,106.15 L272.05,106.21 L272.3,106.28 L272.55,106.33 L272.8,106.38 L273.05,106.42 L273.3,106.47 L273.55,106.51 L273.8,106.56 L274.05,106.62 L274.3,106.68 L274.55,106.75 L274.8,106.84 L275.05,106.96 L275.3,107.11 L275.55,107.28 L275.8,107.49 L276.05,107.71 L276.3,107.95 L276.55,108.21 L276.8,108.47 L277.05,108.74 L277.3,109.01 L277.55,109.28 L277.8,109.54 L278.05,109.8 L278.3,110.04 L278.55,110.26 L278.8,110.47 L279.05,110.69 L279.3,110.91 L279.55,111.14 L279.8,111.36 L280.05,111.59 L280.3,111.82 L280.55,112.03 L280.8,112.24 L281.05,112.44 L281.3,112.63 L281.55,112.81 L281.8,112.97 L282.05,113.1 L282.3,113.22 L282.55,113.32 L282.8,113.4 L283.05,113.48 L283.3,113.56 L283.55,113.63 L283.8,113.7 L284.05,113.77 L284.3,113.83 L284.55,113.89 L284.8,113.94 L285.05,114 L285.3,114.05 L285.55,114.09 L285.8,114.13 L286.05,114.17 L286.3,114.21 L286.55,114.25 L286.8,114.28 L287.05,114.31 L287.3,114.33 L287.55,114.36 L287.8,114.38 L288.05,114.41 L288.3,114.43 L288.55,114.45 L288.8,114.47 L289.05,114.48 L289.3,114.5 L289.55,114.52 L289.8,114.54 L290.05,114.55 L290.3,114.57 L290.55,114.58 L290.8,114.6 L291.05,114.61 L291.3,114.63 L291.55,114.64 L291.8,114.66 L292.05,114.68 L292.3,114.69 L292.55,114.71 L292.8,114.73 L293.05,114.75 L293.3,114.76 L293.55,114.78 L293.8,114.8 L294.05,114.82 L294.3,114.84 L294.55,114.86 L294.8,114.88 L295.05,114.9 L295.3,114.92 L295.55,114.94 L295.8,114.96 L296.05,114.98 L296.3,115 L296.55,115.02 L296.8,115.04 L297.05,115.06 L297.3,115.08 L297.55,115.1 L297.8,115.13 L298.05,115.15 L298.3,115.17 L298.55,115.19 L298.8,115.21 L299.05,115.23 L299.3,115.25 L299.55,115.27 L299.8,115.29 L300.05,115.31 L300.3,115.33 L300.55,115.35 L300.8,115.37 L301.05,115.39 L301.3,115.41 L301.55,115.43 L301.8,115.45 L302.05,115.46 L302.3,115.48 L302.55,115.5 L302.8,115.52 L303.05,115.54 L303.3,115.55 L303.55,115.57 L303.8,115.58 L304.05,115.6 L304.3,115.61 L304.55,115.63 L304.8,115.64 L305.05,115.66 L305.3,115.67 L305.55,115.68 L305.8,115.69 L306.05,115.71 L306.3,115.72 L306.55,115.73 L306.8,115.74 L307.05,115.75 L307.3,115.75 L307.55,115.76 L307.8,115.77 L308.05,115.78 L308.3,115.78 L308.55,115.79 L308.8,115.79 L309.05,115.79 L309.3,115.8 L309.55,115.8 L309.8,115.8 L310.05,115.8 L310.3,115.8 L310.55,115.8 L310.8,115.8 L311.05,115.8 L311.3,115.8 L311.55,115.8 L311.8,115.8 L312.05,115.79 L312.3,115.79 L312.55,115.79 L312.8,115.79 L313.05,115.79 L313.3,115.78 L313.55,115.78 L313.8,115.78 L314.05,115.78 L314.3,115.77 L314.55,115.77 L314.8,115.77 L315.05,115.76 L315.3,115.76 L315.55,115.76 L315.8,115.75 L316.05,115.75 L316.3,115.74 L316.55,115.74 L316.8,115.73 L317.05,115.73 L317.3,115.72 L317.55,115.72 L317.8,115.71 L318.05,115.71 L318.3,115.7 L318.55,115.7 L318.8,115.69 L319.05,115.68 L319.3,115.68 L319.55,115.67 L319.8,115.67 L320.05,115.66 L320.3,115.65 L320.55,115.64 L320.8,115.64 L321.05,115.63 L321.3,115.62 L321.55,115.61 L321.8,115.61 L322.05,115.6 L322.3,115.59 L322.55,115.58 L322.8,115.56 L323.05,115.54 L323.3,115.52 L323.55,115.5 L323.8,115.47 L324.05,115.45 L324.3,115.42 L324.55,115.39 L324.8,115.36 L325.05,115.33 L325.3,115.29 L325.55,115.26 L325.8,115.23 L326.05,115.19 L326.3,115.15 L326.55,115.1 L326.8,115.05 L327.05,114.98 L327.3,114.91 L327.55,114.84 L327.8,114.76 L328.05,114.68 L328.3,114.6 L328.55,114.52 L328.8,114.44 L329.05,114.36 L329.3,114.28 L329.55,114.21 L329.8,114.15 L330.05,114.08 L330.3,114.03 L330.55,113.98 L330.8,113.95 L331.05,113.92 L331.3,113.9 L331.55,113.9 L331.8,113.91 L332.05,113.93 L332.3,113.96 L332.55,113.99 L332.8,114.04 L333.05,114.09 L333.3,114.15 L333.55,114.22 L333.8,114.29 L334.05,114.36 L334.3,114.44 L334.55,114.52 L334.8,114.59 L335.05,114.67 L335.3,114.75 L335.55,114.82 L335.8,114.89 L336.05,114.96 L336.3,115.02 L336.55,115.09 L336.8,115.15 L337.05,115.21 L337.3,115.28 L337.55,115.34 L337.8,115.41 L338.05,115.47 L338.3,115.54 L338.55,115.61 L338.8,115.67 L339.05,115.74 L339.3,115.81 L339.55,115.88 L339.8,115.94 L339.8,116.2 L209.3,116.2 Z" fill="#F8766D" fill-opacity="0.8"/>
<path d="M209.8,116 L210.05,115.26 L210.3,114.68 L210.55,114.56 L210.8,114.51 L211.05,114.47 L211.3,114.44 L211.55,114.42 L211.8,114.4 L212.05,114.39 L212.3,114.37 L212.55,114.35 L212.8,114.33 L213.05,114.29 L213.3,114.25 L213.55,114.21 L213.8,114.17 L214.05,114.12 L214.3,114.07 L214.55,114.02 L214.8,113.96 L215.05,113.91 L215.3,113.84 L215.55,113.78 L215.8,113.71 L216.05,113.64 L216.3,113.56 L216.55,113.48 L216.8,113.4 L217.05,113.31 L217.3,113.2 L217.55,113.08 L217.8,112.96 L218.05,112.82 L218.3,112.67 L218.55,112.51 L218.8,112.34 L219.05,112.16 L219.3,111.97 L219.55,111.75 L219.8,111.51 L220.05,111.25 L220.3,110.98 L220.55,110.7 L220.8,110.42 L221.05,110.13 L221.3,109.84 L221.55,109.56 L221.8,109.29 L222.05,109.02 L222.3,108.74 L222.55,108.45 L222.8,108.17 L223.05,107.88 L223.3,107.59 L223.55,107.29 L223.8,107 L224.05,106.71 L224.3,106.41 L224.55,106.12 L224.8,105.84 L225.05,105.55 L225.3,105.27 L225.55,104.99 L225.8,104.72 L226.05,104.45 L226.3,104.19 L226.55,103.95 L226.8,103.71 L227.05,103.48 L227.3,103.26 L227.55,103.05 L227.8,102.83 L228.05,102.61 L228.3,102.39 L228.55,102.17 L228.8,101.94 L229.05,101.69 L229.3,101.44 L229.55,101.18 L229.8,100.89 L230.05,100.59 L230.3,100.27 L230.55,99.93 L230.8,99.53 L231.05,99.08 L231.3,98.58 L231.55,98.04 L231.8,97.47 L232.05,96.87 L232.3,96.27 L232.55,95.66 L232.8,95.07 L233.05,94.48 L233.3,93.92 L233.55,93.4 L233.8,92.91 L234.05,92.44 L234.3,91.98 L234.55,91.54 L234.8,91.1 L235.05,90.66 L235.3,90.22 L235.55,89.78 L235.8,89.33 L236.05,88.87 L236.3,88.39 L236.55,87.9 L236.8,87.39 L237.05,86.86 L237.3,86.32 L237.55,85.77 L237.8,85.21 L238.05,84.64 L238.3,84.07 L238.55,83.5 L238.8,82.93 L239.05,82.35 L239.3,81.75 L239.55,81.14 L239.8,80.51 L240.05,79.88 L240.3,79.26 L240.55,78.66 L240.8,78.07 L241.05,77.52 L241.3,77 L241.55,76.52 L241.8,76.08 L242.05,75.67 L242.3,75.28 L242.55,74.9 L242.8,74.52 L243.05,74.14 L243.3,73.75 L243.55,73.33 L243.8,72.89 L244.05,72.41 L244.3,71.88 L244.55,71.29 L244.8,70.63 L245.05,69.93 L245.3,69.21 L245.55,68.46 L245.8,67.71 L246.05,66.98 L246.3,66.27 L246.55,65.6 L246.8,64.97 L247.05,64.36 L247.3,63.76 L247.55,63.16 L247.8,62.54 L248.05,61.9 L248.3,61.21 L248.55,60.47 L248.8,59.66 L249.05,58.72 L249.3,57.68 L249.55,56.57 L249.8,55.44 L250.05,54.32 L250.3,53.27 L250.55,52.32 L250.8,51.4 L251.05,50.48 L251.3,49.57 L251.55,48.67 L251.8,47.78 L252.05,46.91 L252.3,46.07 L252.55,45.25 L252.8,44.48 L253.05,43.74 L253.3,43.05 L253.55,42.41 L253.8,41.82 L254.05,41.3 L254.3,40.8 L254.55,40.32 L254.8,39.85 L255.05,39.41 L255.3,39 L255.55,38.63 L255.8,38.29 L256.05,38 L256.3,37.75 L256.55,37.57 L256.8,37.4 L257.05,37.24 L257.3,37.09 L257.55,36.96 L257.8,36.85 L258.05,36.76 L258.3,36.71 L258.55,36.7 L258.8,36.74 L259.05,36.84 L259.3,36.98 L259.55,37.16 L259.8,37.36 L260.05,37.58 L260.3,37.81 L260.55,38.05 L260.8,38.31 L261.05,38.63 L261.3,38.99 L261.55,39.39 L261.8,39.82 L262.05,40.28 L262.3,40.76 L262.55,41.26 L262.8,41.77 L263.05,42.29 L263.3,42.81 L263.55,43.37 L263.8,43.97 L264.05,44.59 L264.3,45.25 L264.55,45.93 L264.8,46.64 L265.05,47.36 L265.3,48.1 L265.55,48.85 L265.8,49.6 L266.05,50.36 L266.3,51.12 L266.55,51.87 L266.8,52.61 L267.05,53.35 L267.3,54.08 L267.55,54.82 L267.8,55.57 L268.05,56.33 L268.3,57.09 L268.55,57.86 L268.8,58.62 L269.05,59.39 L269.3,60.16 L269.55,60.93 L269.8,61.69 L270.05,62.45 L270.3,63.22 L270.55,63.99 L270.8,64.76 L271.05,65.54 L271.3,66.31 L271.55,67.09 L271.8,67.86 L272.05,68.62 L272.3,69.37 L272.55,70.11 L272.8,70.83 L273.05,71.54 L273.3,72.24 L273.55,72.95 L273.8,73.65 L274.05,74.35 L274.3,75.04 L274.55,75.73 L274.8,76.4 L275.05,77.06 L275.3,77.71 L275.55,78.35 L275.8,78.97 L276.05,79.56 L276.3,80.14 L276.55,80.69 L276.8,81.22 L277.05,81.74 L277.3,82.25 L277.55,82.74 L277.8,83.21 L278.05,83.68 L278.3,84.14 L278.55,84.58 L278.8,85.02 L279.05,85.45 L279.3,85.87 L279.55,86.28 L279.8,86.68 L280.05,87.08 L280.3,87.47 L280.55,87.87 L280.8,88.25 L281.05,88.64 L281.3,89.02 L281.55,89.4 L281.8,89.77 L282.05,90.14 L282.3,90.5 L282.55,90.85 L282.8,91.2 L283.05,91.55 L283.3,91.89 L283.55,92.22 L283.8,92.54 L284.05,92.85 L284.3,93.16 L284.55,93.46 L284.8,93.75 L285.05,94.03 L285.3,94.3 L285.55,94.56 L285.8,94.82 L286.05,95.08 L286.3,95.33 L286.55,95.58 L286.8,95.82 L287.05,96.06 L287.3,96.29 L287.55,96.52 L287.8,96.75 L288.05,96.97 L288.3,97.18 L288.55,97.39 L288.8,97.59 L289.05,97.79 L289.3,97.99 L289.55,98.17 L289.8,98.36 L290.05,98.53 L290.3,98.7 L290.55,98.87 L290.8,99.03 L291.05,99.18 L291.3,99.33 L291.55,99.47 L291.8,99.61 L292.05,99.74 L292.3,99.87 L292.55,100 L292.8,100.13 L293.05,100.25 L293.3,100.37 L293.55,100.49 L293.8,100.6 L294.05,100.72 L294.3,100.84 L294.55,100.95 L294.8,101.07 L295.05,101.19 L295.3,101.31 L295.55,101.43 L295.8,101.55 L296.05,101.67 L296.3,101.8 L296.55,101.92 L296.8,102.03 L297.05,102.15 L297.3,102.27 L297.55,102.38 L297.8,102.49 L298.05,102.61 L298.3,102.72 L298.55,102.84 L298.8,102.95 L299.05,103.07 L299.3,103.19 L299.55,103.31 L299.8,103.44 L300.05,103.57 L300.3,103.7 L300.55,103.83 L300.8,103.97 L301.05,104.11 L301.3,104.26 L301.55,104.41 L301.8,104.58 L302.05,104.74 L302.3,104.92 L302.55,105.1 L302.8,105.28 L303.05,105.46 L303.3,105.65 L303.55,105.85 L303.8,106.04 L304.05,106.24 L304.3,106.43 L304.55,106.63 L304.8,106.83 L305.05,107.02 L305.3,107.22 L305.55,107.41 L305.8,107.6 L306.05,107.79 L306.3,107.98 L306.55,108.17 L306.8,108.36 L307.05,108.56 L307.3,108.75 L307.55,108.95 L307.8,109.14 L308.05,109.34 L308.3,109.53 L308.55,109.73 L308.8,109.92 L309.05,110.11 L309.3,110.3 L309.55,110.49 L309.8,110.68 L310.05,110.87 L310.3,111.05 L310.55,111.24 L310.8,111.42 L311.05,111.61 L311.3,111.79 L311.55,111.98 L311.8,112.17 L312.05,112.36 L312.3,112.54 L312.55,112.73 L312.8,112.9 L313.05,113.08 L313.3,113.25 L313.55,113.41 L313.8,113.56 L314.05,113.71 L314.3,113.85 L314.55,113.98 L314.8,114.11 L315.05,114.23 L315.3,114.36 L315.55,114.48 L315.8,114.6 L316.05,114.72 L316.3,114.83 L316.55,114.94 L316.8,115.04 L317.05,115.14 L317.3,115.22 L317.55,115.31 L317.8,115.38 L318.05,115.44 L318.3,115.5 L318.55,115.55 L318.8,115.6 L319.05,115.65 L319.3,115.7 L319.55,115.74 L319.8,115.79 L320.05,115.83 L320.3,115.87 L320.55,115.9 L320.8,115.93 L321.05,115.95 L321.3,115.97 L321.55,115.99 L321.8,116 L322.05,116 L322.3,115.99 L322.55,115.98 L322.8,115.96 L323.05,115.93 L323.3,115.9 L323.55,115.86 L323.8,115.82 L324.05,115.77 L324.3,115.72 L324.55,115.68 L324.8,115.63 L325.05,115.58 L325.3,115.53 L325.55,115.49 L325.8,115.44 L326.05,115.41 L326.3,115.37 L326.55,115.33 L326.8,115.3 L327.05,115.26 L327.3,115.21 L327.55,115.17 L327.8,115.13 L328.05,115.09 L328.3,115.04 L328.55,115 L328.8,114.96 L329.05,114.92 L329.3,114.88 L329.55,114.84 L329.8,114.8 L330.05,114.77 L330.3,114.74 L330.55,114.71 L330.8,114.68 L331.05,114.66 L331.3,114.64 L331.55,114.62 L331.8,114.61 L332.05,114.6 L332.3,114.6 L332.55,114.6 L332.8,114.6 L333.05,114.6 L333.3,114.6 L333.55,114.6 L333.8,114.6 L334.05,114.6 L334.3,114.6 L334.55,114.6 L334.8,114.6 L335.05,114.6 L335.3,114.6 L335.55,114.6 L335.8,114.6 L336.05,114.6 L336.3,114.6 L336.55,114.6 L336.8,114.6 L337.05,114.6 L337.3,114.6 L337.55,114.6 L337.8,114.6 L338.05,114.6 L338.3,114.6 L338.55,114.6 L338.8,114.6 L339.05,114.6 L339.3,114.6 L339.55,114.6 L339.8,114.6 L340.05,114.6 L340.3,114.6 L340.55,114.6 L340.8,114.6 L341.05,114.6 L341.3,114.6 L341.55,114.6 L341.8,114.66 L342.05,115.19 L342.3,115.93 L342.3,116.2 L209.8,116.2 Z" fill="#00BFC4" fill-opacity="0.8"/>
<rect x="202.7" y="17.1" width="145.6" height="103.6" fill="none" stroke="#8f8f8f" stroke-width="1.0"/>
<line x1="200.7" y1="115.8" x2="202.7" y2="115.8" stroke="#8f8f8f" stroke-width="0.8"/><text x="199.5" y="118.1" text-anchor="end" fill="#444" stroke="#444">0.0</text>
<line x1="200.7" y1="83" x2="202.7" y2="83" stroke="#8f8f8f" stroke-width="0.8"/><text x="199.5" y="85.3" text-anchor="end" fill="#444" stroke="#444">0.2</text>
<line x1="200.7" y1="50.1" x2="202.7" y2="50.1" stroke="#8f8f8f" stroke-width="0.8"/><text x="199.5" y="52.4" text-anchor="end" fill="#444" stroke="#444">0.4</text>
<line x1="200.7" y1="17.3" x2="202.7" y2="17.3" stroke="#8f8f8f" stroke-width="0.8"/><text x="199.5" y="19.6" text-anchor="end" fill="#444" stroke="#444">0.6</text>
<line x1="208.6" y1="120.7" x2="208.6" y2="122.7" stroke="#8f8f8f" stroke-width="0.8"/><text x="208.6" y="129.2" text-anchor="middle" fill="#444" stroke="#444">−2</text>
<line x1="246.6" y1="120.7" x2="246.6" y2="122.7" stroke="#8f8f8f" stroke-width="0.8"/><text x="246.6" y="129.2" text-anchor="middle" fill="#444" stroke="#444">0</text>
<line x1="284.8" y1="120.7" x2="284.8" y2="122.7" stroke="#8f8f8f" stroke-width="0.8"/><text x="284.8" y="129.2" text-anchor="middle" fill="#444" stroke="#444">2</text>
<line x1="323" y1="120.7" x2="323" y2="122.7" stroke="#8f8f8f" stroke-width="0.8"/><text x="323" y="129.2" text-anchor="middle" fill="#444" stroke="#444">4</text>
<text x="282" y="137.3" text-anchor="middle" fill="#111" stroke="#111">Difference score</text>
<text transform="translate(183.6,66.5) rotate(-90)" text-anchor="middle" fill="#111" stroke="#111">density</text>
<path d="M209.4,241.6 L209.65,241.6 L209.9,241.6 L210.15,241.6 L210.4,241.6 L210.65,241.6 L210.9,241.59 L211.15,241.59 L211.4,241.59 L211.65,241.59 L211.9,241.58 L212.15,241.58 L212.4,241.58 L212.65,241.57 L212.9,241.57 L213.15,241.56 L213.4,241.56 L213.65,241.55 L213.9,241.55 L214.15,241.54 L214.4,241.53 L214.65,241.53 L214.9,241.52 L215.15,241.51 L215.4,241.5 L215.65,241.5 L215.9,241.49 L216.15,241.48 L216.4,241.47 L216.65,241.46 L216.9,241.45 L217.15,241.44 L217.4,241.43 L217.65,241.42 L217.9,241.41 L218.15,241.4 L218.4,241.39 L218.65,241.38 L218.9,241.37 L219.15,241.35 L219.4,241.34 L219.65,241.33 L219.9,241.32 L220.15,241.3 L220.4,241.29 L220.65,241.28 L220.9,241.26 L221.15,241.25 L221.4,241.23 L221.65,241.22 L221.9,241.2 L222.15,241.19 L222.4,241.17 L222.65,241.16 L222.9,241.14 L223.15,241.13 L223.4,241.11 L223.65,241.09 L223.9,241.08 L224.15,241.06 L224.4,241.04 L224.65,241.02 L224.9,241.01 L225.15,240.99 L225.4,240.97 L225.65,240.94 L225.9,240.92 L226.15,240.89 L226.4,240.85 L226.65,240.82 L226.9,240.78 L227.15,240.74 L227.4,240.69 L227.65,240.65 L227.9,240.6 L228.15,240.55 L228.4,240.49 L228.65,240.44 L228.9,240.38 L229.15,240.32 L229.4,240.25 L229.65,240.19 L229.9,240.12 L230.15,240.06 L230.4,239.99 L230.65,239.91 L230.9,239.84 L231.15,239.77 L231.4,239.69 L231.65,239.61 L231.9,239.53 L232.15,239.45 L232.4,239.35 L232.65,239.23 L232.9,239.1 L233.15,238.96 L233.4,238.8 L233.65,238.64 L233.9,238.48 L234.15,238.31 L234.4,238.14 L234.65,237.97 L234.9,237.81 L235.15,237.65 L235.4,237.49 L235.65,237.35 L235.9,237.22 L236.15,237.1 L236.4,237 L236.65,236.91 L236.9,236.84 L237.15,236.77 L237.4,236.71 L237.65,236.65 L237.9,236.59 L238.15,236.54 L238.4,236.48 L238.65,236.43 L238.9,236.37 L239.15,236.3 L239.4,236.22 L239.65,236.14 L239.9,236.04 L240.15,235.93 L240.4,235.81 L240.65,235.66 L240.9,235.5 L241.15,235.32 L241.4,235.12 L241.65,234.91 L241.9,234.67 L242.15,234.42 L242.4,234.15 L242.65,233.86 L242.9,233.56 L243.15,233.24 L243.4,232.89 L243.65,232.53 L243.9,232.16 L244.15,231.74 L244.4,231.18 L244.65,230.5 L244.9,229.72 L245.15,228.85 L245.4,227.93 L245.65,226.96 L245.9,225.98 L246.15,225.01 L246.4,224.05 L246.65,223.15 L246.9,222.31 L247.15,221.53 L247.4,220.66 L247.65,219.75 L247.9,218.81 L248.15,217.9 L248.4,217.05 L248.65,216.3 L248.9,215.68 L249.15,215.25 L249.4,215.02 L249.65,215.03 L249.9,215.19 L250.15,215.48 L250.4,215.86 L250.65,216.31 L250.9,216.8 L251.15,217.3 L251.4,217.78 L251.65,218.22 L251.9,218.58 L252.15,218.85 L252.4,218.99 L252.65,218.89 L252.9,218.29 L253.15,217.24 L253.4,215.84 L253.65,214.19 L253.9,212.38 L254.15,210.52 L254.4,208.7 L254.65,206.92 L254.9,204.9 L255.15,202.68 L255.4,200.31 L255.65,197.87 L255.9,195.43 L256.15,193.06 L256.4,190.84 L256.65,188.79 L256.9,186.86 L257.15,185 L257.4,183.19 L257.65,181.39 L257.9,179.58 L258.15,177.73 L258.4,175.8 L258.65,173.74 L258.9,171.49 L259.15,169.14 L259.4,166.81 L259.65,164.62 L259.9,162.68 L260.15,161.01 L260.4,159.31 L260.65,157.6 L260.9,155.93 L261.15,154.35 L261.4,152.94 L261.65,151.74 L261.9,150.81 L262.15,150.21 L262.4,150 L262.65,150.22 L262.9,150.83 L263.15,151.77 L263.4,152.98 L263.65,154.41 L263.9,155.99 L264.15,157.66 L264.4,159.36 L264.65,161.04 L264.9,162.65 L265.15,164.48 L265.4,166.52 L265.65,168.67 L265.9,170.86 L266.15,173 L266.4,175 L266.65,176.85 L266.9,178.62 L267.15,180.33 L267.4,182.02 L267.65,183.72 L267.9,185.46 L268.15,187.28 L268.4,189.2 L268.65,191.27 L268.9,193.54 L269.15,195.96 L269.4,198.44 L269.65,200.92 L269.9,203.32 L270.15,205.57 L270.4,207.76 L270.65,210.05 L270.9,212.26 L271.15,214.18 L271.4,215.61 L271.65,216.49 L271.9,217.26 L272.15,217.97 L272.4,218.6 L272.65,219.13 L272.9,219.55 L273.15,219.84 L273.4,219.99 L273.65,219.99 L273.9,219.93 L274.15,219.83 L274.4,219.7 L274.65,219.56 L274.9,219.41 L275.15,219.27 L275.4,219.15 L275.65,219.05 L275.9,219 L276.15,219.04 L276.4,219.25 L276.65,219.64 L276.9,220.16 L277.15,220.79 L277.4,221.5 L277.65,222.26 L277.9,223.04 L278.15,223.82 L278.4,224.55 L278.65,225.23 L278.9,225.8 L279.15,226.28 L279.4,226.75 L279.65,227.21 L279.9,227.67 L280.15,228.12 L280.4,228.56 L280.65,228.99 L280.9,229.4 L281.15,229.79 L281.4,230.17 L281.65,230.52 L281.9,230.85 L282.15,231.15 L282.4,231.42 L282.65,231.66 L282.9,231.87 L283.15,232.06 L283.4,232.24 L283.65,232.4 L283.9,232.55 L284.15,232.7 L284.4,232.84 L284.65,232.97 L284.9,233.1 L285.15,233.23 L285.4,233.36 L285.65,233.49 L285.9,233.63 L286.15,233.77 L286.4,233.92 L286.65,234.07 L286.9,234.22 L287.15,234.38 L287.4,234.53 L287.65,234.68 L287.9,234.83 L288.15,234.99 L288.4,235.14 L288.65,235.29 L288.9,235.44 L289.15,235.59 L289.4,235.74 L289.65,235.89 L289.9,236.04 L290.15,236.18 L290.4,236.33 L290.65,236.47 L290.9,236.61 L291.15,236.76 L291.4,236.91 L291.65,237.06 L291.9,237.22 L292.15,237.37 L292.4,237.53 L292.65,237.68 L292.9,237.82 L293.15,237.97 L293.4,238.11 L293.65,238.24 L293.9,238.36 L294.15,238.48 L294.4,238.59 L294.65,238.68 L294.9,238.77 L295.15,238.84 L295.4,238.91 L295.65,238.98 L295.9,239.05 L296.15,239.11 L296.4,239.17 L296.65,239.23 L296.9,239.28 L297.15,239.34 L297.4,239.39 L297.65,239.44 L297.9,239.48 L298.15,239.53 L298.4,239.57 L298.65,239.61 L298.9,239.65 L299.15,239.69 L299.4,239.72 L299.65,239.76 L299.9,239.79 L300.15,239.82 L300.4,239.85 L300.65,239.88 L300.9,239.9 L301.15,239.93 L301.4,239.96 L301.65,239.98 L301.9,240.01 L302.15,240.03 L302.4,240.06 L302.65,240.08 L302.9,240.11 L303.15,240.13 L303.4,240.15 L303.65,240.17 L303.9,240.19 L304.15,240.22 L304.4,240.24 L304.65,240.26 L304.9,240.28 L305.15,240.29 L305.4,240.31 L305.65,240.33 L305.9,240.35 L306.15,240.37 L306.4,240.38 L306.65,240.4 L306.9,240.42 L307.15,240.43 L307.4,240.45 L307.65,240.47 L307.9,240.48 L308.15,240.5 L308.4,240.51 L308.65,240.53 L308.9,240.54 L309.15,240.55 L309.4,240.57 L309.65,240.58 L309.9,240.59 L310.15,240.61 L310.4,240.62 L310.65,240.63 L310.9,240.65 L311.15,240.66 L311.4,240.68 L311.65,240.69 L311.9,240.7 L312.15,240.71 L312.4,240.73 L312.65,240.74 L312.9,240.75 L313.15,240.77 L313.4,240.78 L313.65,240.79 L313.9,240.8 L314.15,240.82 L314.4,240.83 L314.65,240.84 L314.9,240.85 L315.15,240.86 L315.4,240.87 L315.65,240.88 L315.9,240.89 L316.15,240.9 L316.4,240.91 L316.65,240.92 L316.9,240.93 L317.15,240.94 L317.4,240.95 L317.65,240.95 L317.9,240.96 L318.15,240.97 L318.4,240.97 L318.65,240.98 L318.9,240.98 L319.15,240.99 L319.4,240.99 L319.65,241 L319.9,241 L320.15,241 L320.4,241 L320.65,241.01 L320.9,241.01 L321.15,241.01 L321.4,241.01 L321.65,241.01 L321.9,241.02 L322.15,241.02 L322.4,241.02 L322.65,241.02 L322.9,241.02 L323.15,241.03 L323.4,241.03 L323.65,241.03 L323.9,241.03 L324.15,241.03 L324.4,241.03 L324.65,241.04 L324.9,241.04 L325.15,241.04 L325.4,241.04 L325.65,241.04 L325.9,241.05 L326.15,241.05 L326.4,241.05 L326.65,241.05 L326.9,241.05 L327.15,241.05 L327.4,241.05 L327.65,241.06 L327.9,241.06 L328.15,241.06 L328.4,241.06 L328.65,241.06 L328.9,241.06 L329.15,241.06 L329.4,241.07 L329.65,241.07 L329.9,241.07 L330.15,241.07 L330.4,241.07 L330.65,241.07 L330.9,241.07 L331.15,241.07 L331.4,241.07 L331.65,241.08 L331.9,241.08 L332.15,241.08 L332.4,241.08 L332.65,241.08 L332.9,241.08 L333.15,241.08 L333.4,241.08 L333.65,241.08 L333.9,241.08 L334.15,241.09 L334.4,241.09 L334.65,241.09 L334.9,241.09 L335.15,241.09 L335.4,241.09 L335.65,241.09 L335.9,241.09 L336.15,241.09 L336.4,241.09 L336.65,241.09 L336.9,241.09 L337.15,241.09 L337.4,241.09 L337.65,241.09 L337.9,241.1 L338.15,241.1 L338.4,241.1 L338.65,241.1 L338.9,241.1 L339.15,241.1 L339.4,241.1 L339.65,241.1 L339.9,241.1 L340.15,241.1 L340.4,241.1 L340.65,241.1 L340.9,241.1 L341.15,241.1 L341.4,241.1 L341.65,241.1 L341.9,241.1 L342.15,241.1 L342.4,241.1 L342.65,241.1 L342.9,241.1 L342.9,241.8 L209.4,241.8 Z" fill="#F8766D" fill-opacity="0.8"/>
<path d="M209.4,240.9 L209.65,240.8 L209.9,240.69 L210.15,240.6 L210.4,240.51 L210.65,240.43 L210.9,240.36 L211.15,240.3 L211.4,240.25 L211.65,240.22 L211.9,240.2 L212.15,240.2 L212.4,240.21 L212.65,240.23 L212.9,240.26 L213.15,240.29 L213.4,240.33 L213.65,240.37 L213.9,240.41 L214.15,240.45 L214.4,240.49 L214.65,240.52 L214.9,240.55 L215.15,240.58 L215.4,240.59 L215.65,240.6 L215.9,240.6 L216.15,240.6 L216.4,240.59 L216.65,240.58 L216.9,240.57 L217.15,240.56 L217.4,240.54 L217.65,240.53 L217.9,240.51 L218.15,240.49 L218.4,240.47 L218.65,240.45 L218.9,240.42 L219.15,240.4 L219.4,240.37 L219.65,240.35 L219.9,240.32 L220.15,240.3 L220.4,240.27 L220.65,240.24 L220.9,240.22 L221.15,240.19 L221.4,240.17 L221.65,240.14 L221.9,240.12 L222.15,240.1 L222.4,240.07 L222.65,240.05 L222.9,240.03 L223.15,240.01 L223.4,239.99 L223.65,239.96 L223.9,239.94 L224.15,239.92 L224.4,239.9 L224.65,239.87 L224.9,239.85 L225.15,239.82 L225.4,239.79 L225.65,239.77 L225.9,239.74 L226.15,239.7 L226.4,239.67 L226.65,239.64 L226.9,239.6 L227.15,239.56 L227.4,239.52 L227.65,239.48 L227.9,239.44 L228.15,239.39 L228.4,239.34 L228.65,239.29 L228.9,239.23 L229.15,239.17 L229.4,239.1 L229.65,239.02 L229.9,238.94 L230.15,238.86 L230.4,238.76 L230.65,238.66 L230.9,238.55 L231.15,238.41 L231.4,238.17 L231.65,237.85 L231.9,237.46 L232.15,237.04 L232.4,236.6 L232.65,236.16 L232.9,235.75 L233.15,235.38 L233.4,235.09 L233.65,234.87 L233.9,234.66 L234.15,234.46 L234.4,234.25 L234.65,234.06 L234.9,233.88 L235.15,233.72 L235.4,233.58 L235.65,233.46 L235.9,233.37 L236.15,233.32 L236.4,233.3 L236.65,233.36 L236.9,233.52 L237.15,233.76 L237.4,234.05 L237.65,234.37 L237.9,234.68 L238.15,235.01 L238.4,235.45 L238.65,235.97 L238.9,236.49 L239.15,236.92 L239.4,237.22 L239.65,237.3 L239.9,237.25 L240.15,237.15 L240.4,237 L240.65,236.81 L240.9,236.59 L241.15,236.35 L241.4,236.1 L241.65,235.83 L241.9,235.47 L242.15,235.04 L242.4,234.55 L242.65,234.03 L242.9,233.48 L243.15,232.9 L243.4,232.28 L243.65,231.6 L243.9,230.87 L244.15,230.06 L244.4,229.18 L244.65,228.21 L244.9,227.03 L245.15,225.47 L245.4,223.66 L245.65,221.73 L245.9,219.81 L246.15,218.03 L246.4,216.5 L246.65,215.29 L246.9,214.07 L247.15,212.85 L247.4,211.66 L247.65,210.52 L247.9,209.46 L248.15,208.52 L248.4,207.72 L248.65,207.1 L248.9,206.69 L249.15,206.51 L249.4,206.56 L249.65,206.8 L249.9,207.18 L250.15,207.69 L250.4,208.3 L250.65,208.98 L250.9,209.7 L251.15,210.54 L251.4,211.78 L251.65,213.33 L251.9,215.04 L252.15,216.78 L252.4,218.41 L252.65,219.92 L252.9,221.64 L253.15,223.4 L253.4,224.96 L253.65,226.08 L253.9,226.5 L254.15,226.25 L254.4,225.58 L254.65,224.64 L254.9,223.44 L255.15,221.16 L255.4,218.09 L255.65,214.81 L255.9,211.85 L256.15,208.89 L256.4,205.87 L256.65,202.86 L256.9,199.93 L257.15,197.16 L257.4,194.54 L257.65,192.01 L257.9,189.56 L258.15,187.16 L258.4,184.78 L258.65,182.39 L258.9,179.99 L259.15,177.53 L259.4,175 L259.65,172.33 L259.9,169.54 L260.15,166.72 L260.4,163.98 L260.65,161.42 L260.9,159.06 L261.15,156.53 L261.4,153.92 L261.65,151.47 L261.9,149.43 L262.15,148.02 L262.4,147.5 L262.65,148.05 L262.9,149.51 L263.15,151.62 L263.4,154.1 L263.65,156.7 L263.9,159.13 L264.15,161.24 L264.4,163.29 L264.65,165.36 L264.9,167.49 L265.15,169.69 L265.4,172.02 L265.65,174.49 L265.9,177.18 L266.15,180.15 L266.4,183.32 L266.65,186.61 L266.9,189.96 L267.15,193.27 L267.4,196.47 L267.65,199.55 L267.9,202.68 L268.15,205.79 L268.4,208.77 L268.65,211.51 L268.9,213.94 L269.15,216.24 L269.4,218.35 L269.65,220.14 L269.9,221.52 L270.15,222.83 L270.4,224.02 L270.65,224.95 L270.9,225.45 L271.15,225.45 L271.4,225.15 L271.65,224.63 L271.9,223.95 L272.15,223.16 L272.4,222.33 L272.65,221.41 L272.9,220.06 L273.15,218.41 L273.4,216.63 L273.65,214.88 L273.9,213.34 L274.15,212.17 L274.4,211.35 L274.65,210.55 L274.9,209.81 L275.15,209.15 L275.4,208.61 L275.65,208.22 L275.9,208.02 L276.15,208.03 L276.4,208.23 L276.65,208.58 L276.9,209.06 L277.15,209.63 L277.4,210.28 L277.65,210.99 L277.9,211.71 L278.15,212.49 L278.4,213.52 L278.65,214.77 L278.9,216.2 L279.15,217.75 L279.4,219.37 L279.65,221.01 L279.9,222.61 L280.15,224.12 L280.4,225.5 L280.65,226.74 L280.9,227.99 L281.15,229.23 L281.4,230.39 L281.65,231.41 L281.9,232.24 L282.15,232.86 L282.4,233.45 L282.65,234.02 L282.9,234.55 L283.15,235.03 L283.4,235.46 L283.65,235.81 L283.9,236.07 L284.15,236.24 L284.4,236.3 L284.65,236.22 L284.9,236.03 L285.15,235.76 L285.4,235.47 L285.65,235.21 L285.9,235.04 L286.15,234.96 L286.4,234.9 L286.65,234.85 L286.9,234.8 L287.15,234.76 L287.4,234.73 L287.65,234.71 L287.9,234.7 L288.15,234.71 L288.4,234.74 L288.65,234.8 L288.9,234.89 L289.15,234.99 L289.4,235.11 L289.65,235.24 L289.9,235.38 L290.15,235.53 L290.4,235.67 L290.65,235.81 L290.9,235.95 L291.15,236.08 L291.4,236.23 L291.65,236.39 L291.9,236.57 L292.15,236.76 L292.4,236.96 L292.65,237.16 L292.9,237.37 L293.15,237.58 L293.4,237.78 L293.65,237.98 L293.9,238.18 L294.15,238.36 L294.4,238.53 L294.65,238.68 L294.9,238.81 L295.15,238.92 L295.4,239.01 L295.65,239.07 L295.9,239.1 L296.15,239.09 L296.4,239.04 L296.65,238.94 L296.9,238.81 L297.15,238.64 L297.4,238.45 L297.65,238.24 L297.9,238.02 L298.15,237.78 L298.4,237.55 L298.65,237.31 L298.9,237.09 L299.15,236.86 L299.4,236.59 L299.65,236.27 L299.9,235.93 L300.15,235.57 L300.4,235.2 L300.65,234.84 L300.9,234.5 L301.15,234.19 L301.4,233.92 L301.65,233.71 L301.9,233.56 L302.15,233.5 L302.4,233.53 L302.65,233.66 L302.9,233.86 L303.15,234.13 L303.4,234.44 L303.65,234.79 L303.9,235.15 L304.15,235.52 L304.4,235.87 L304.65,236.21 L304.9,236.64 L305.15,237.13 L305.4,237.65 L305.65,238.17 L305.9,238.64 L306.15,239.04 L306.4,239.34 L306.65,239.49 L306.9,239.53 L307.15,239.56 L307.4,239.59 L307.65,239.62 L307.9,239.65 L308.15,239.67 L308.4,239.7 L308.65,239.72 L308.9,239.73 L309.15,239.75 L309.4,239.76 L309.65,239.77 L309.9,239.78 L310.15,239.79 L310.4,239.79 L310.65,239.8 L310.9,239.8 L311.15,239.8 L311.4,239.78 L311.65,239.75 L311.9,239.7 L312.15,239.64 L312.4,239.58 L312.65,239.51 L312.9,239.43 L313.15,239.35 L313.4,239.27 L313.65,239.19 L313.9,239.11 L314.15,239.04 L314.4,238.97 L314.65,238.91 L314.9,238.86 L315.15,238.83 L315.4,238.81 L315.65,238.8 L315.9,238.82 L316.15,238.86 L316.4,238.91 L316.65,238.99 L316.9,239.07 L317.15,239.17 L317.4,239.28 L317.65,239.39 L317.9,239.51 L318.15,239.63 L318.4,239.74 L318.65,239.86 L318.9,239.96 L319.15,240.06 L319.4,240.16 L319.65,240.26 L319.9,240.36 L320.15,240.46 L320.4,240.57 L320.65,240.67 L320.9,240.78 L321.15,240.89 L321.4,241 L321.65,241.11 L321.9,241.23 L322.15,241.34 L322.4,241.46 L322.65,241.58 L322.65,241.8 L209.4,241.8 Z" fill="#00BFC4" fill-opacity="0.8"/>
<rect x="203" y="142.9" width="145.4" height="103.6" fill="none" stroke="#8f8f8f" stroke-width="1.0"/>
<line x1="201" y1="241.8" x2="203" y2="241.8" stroke="#8f8f8f" stroke-width="0.8"/><text x="199.8" y="244.1" text-anchor="end" fill="#444" stroke="#444">0.0</text>
<line x1="201" y1="217.3" x2="203" y2="217.3" stroke="#8f8f8f" stroke-width="0.8"/><text x="199.8" y="219.6" text-anchor="end" fill="#444" stroke="#444">0.2</text>
<line x1="201" y1="192.7" x2="203" y2="192.7" stroke="#8f8f8f" stroke-width="0.8"/><text x="199.8" y="195" text-anchor="end" fill="#444" stroke="#444">0.4</text>
<line x1="201" y1="168.2" x2="203" y2="168.2" stroke="#8f8f8f" stroke-width="0.8"/><text x="199.8" y="170.5" text-anchor="end" fill="#444" stroke="#444">0.6</text>
<line x1="201" y1="143.6" x2="203" y2="143.6" stroke="#8f8f8f" stroke-width="0.8"/><text x="199.8" y="145.9" text-anchor="end" fill="#444" stroke="#444">0.8</text>
<line x1="211.4" y1="246.5" x2="211.4" y2="248.5" stroke="#8f8f8f" stroke-width="0.8"/><text x="211.4" y="255.1" text-anchor="middle" fill="#444" stroke="#444">−4</text>
<line x1="237.7" y1="246.5" x2="237.7" y2="248.5" stroke="#8f8f8f" stroke-width="0.8"/><text x="237.7" y="255.1" text-anchor="middle" fill="#444" stroke="#444">−2</text>
<line x1="264" y1="246.5" x2="264" y2="248.5" stroke="#8f8f8f" stroke-width="0.8"/><text x="264" y="255.1" text-anchor="middle" fill="#444" stroke="#444">0</text>
<line x1="290.3" y1="246.5" x2="290.3" y2="248.5" stroke="#8f8f8f" stroke-width="0.8"/><text x="290.3" y="255.1" text-anchor="middle" fill="#444" stroke="#444">2</text>
<line x1="316.6" y1="246.5" x2="316.6" y2="248.5" stroke="#8f8f8f" stroke-width="0.8"/><text x="316.6" y="255.1" text-anchor="middle" fill="#444" stroke="#444">4</text>
<line x1="342.9" y1="246.5" x2="342.9" y2="248.5" stroke="#8f8f8f" stroke-width="0.8"/><text x="342.9" y="255.1" text-anchor="middle" fill="#444" stroke="#444">6</text>
<text x="282" y="263.9" text-anchor="middle" fill="#111" stroke="#111">Difference score</text>
<text transform="translate(183.4,194) rotate(-90)" text-anchor="middle" fill="#111" stroke="#111">density</text>
<rect x="136.5" y="1.4" width="11.2" height="7.5" fill="#F8766D" fill-opacity="0.8"/>
<text x="150.6" y="7.1" fill="#111" stroke="#111">Control</text>
<rect x="177.2" y="1.4" width="11.7" height="7.5" fill="#00BFC4" fill-opacity="0.8"/>
<text x="192" y="7.1" fill="#111" stroke="#111">Inoculation</text>
</svg></body></html>
